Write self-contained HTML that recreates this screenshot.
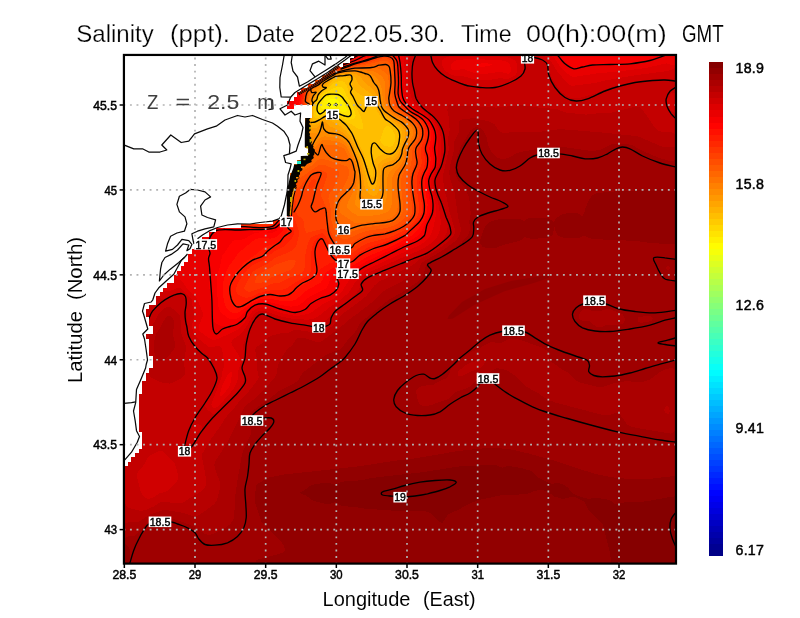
<!DOCTYPE html><html><head><meta charset="utf-8"><title>Salinity</title>
<style>html,body{margin:0;padding:0;background:#fff}svg{display:block}text{font-family:"Liberation Sans",sans-serif}</style></head><body>
<svg width="800" height="618" viewBox="0 0 800 618" style="will-change:transform">
<rect width="800" height="618" fill="#fff"/>
<defs><clipPath id="pc"><rect x="124.33" y="54.05" width="551.17" height="509.55"/></clipPath></defs>
<g clip-path="url(#pc)">
<g shape-rendering="crispEdges">
<rect x="124.33" y="54.05" width="551.17" height="509.55" fill="#860000"/>
<path d="M122.3 52L678.3 52L678.3 496L670.3 496.9L646.3 501.4L624.3 502.4L616.3 504.4L614.3 503.6L613 502.1L610.3 500.7L606.3 499.4L596.3 497.7L588.3 499L576.3 495.3L572.3 493.1L568.4 488.1L564.3 484.9L558.3 482.9L552.3 483.8L548.3 482.8L538.3 477.8L533 472.1L528.7 470.1L520.9 468L510.3 466.3L506.3 466.5L502.3 467.7L496.3 465.3L490.3 464.7L472.3 466L464.3 465.9L456.3 466.8L423.5 472.1L370.3 478.1L362.3 480.2L344.3 481.4L340.9 482.1L336.8 484.1L336.3 484.7L334.3 484.9L333.3 484.1L328.3 483L316.3 483.7L309.1 486L306.3 488.9L302.3 491.4L299.2 492.1L301.9 494.1L306.3 495.4L309.2 498.1L314.3 501.2L324.3 503.6L330.3 503.8L334.3 502.4L336.3 502.5L338.3 504L342.3 505.9L358.3 507.5L366.3 508.9L386.8 510.1L398.3 511.3L412.3 511.5L420.3 510.8L426.3 511.5L430.3 513.2L440.3 522.3L442.3 523L447 516L448.9 514L458.3 509.8L468.3 504.1L478.3 500.1L502.3 495L508.3 495.2L526.3 494L530.3 493L534.3 490.7L540.3 490.2L546.3 490.7L548.3 491.4L553.2 496.1L560.3 498.4L564.3 498.8L572.3 496.5L574.3 496.8L582.3 500.5L584.3 502.1L588.6 510.1L598.3 520.3L601 522L602.7 524L609.4 550L611 560L611.3 566L122.3 566Z" fill="#920000"/>
<path d="M122.3 52L678.3 52L678.3 191.6L666.3 190.3L640.3 190.2L612.3 191.6L596.3 193.2L591.5 196.1L588.9 200.1L585.5 208.1L584.3 212.8L582.3 216.2L580.3 214.5L576.3 212.9L566.3 213.4L562.3 214.4L558.3 216.7L554.9 220.1L554.3 221.7L552.3 221.4L551.6 220.1L548.3 218.4L542.3 217.5L530.3 217.7L524.9 220.1L524.3 220.9L520.3 219.4L514.3 218.7L502.3 218.7L494.7 220.1L489.8 222.1L485.4 226.1L482.8 232L480.3 240.1L480.2 242.1L480.6 244.1L482.3 246.5L486.3 248.3L490.3 248.4L496.3 247.6L506.3 244.1L518.3 241.2L520.9 240.1L524.3 237L527.4 238.1L532.3 238.8L546.8 238.1L551.4 236.1L553.2 234.1L554.3 225.1L555 230.1L556.8 234.1L559 236L564.3 237.9L578.3 238L584.3 235.7L589.1 238.1L594.3 239L608.3 239.8L618.3 239.5L628.3 240.8L636.3 240.9L648.3 242.7L668.3 244.2L678.3 244.3L678.3 475.9L672.3 476.2L652.3 478.6L638.3 479.3L630.3 479.1L612.3 477.3L595.4 474.1L556.3 461.2L528.3 453.4L508.3 448.8L490.3 448L480.3 448.6L456.3 451.3L416.9 458.1L392.3 461.1L360.6 466.1L284.3 474.5L268.3 477.6L257.1 484.1L256.1 486.1L254.6 498.1L255.4 504.1L261.6 522L266.3 527.4L279.9 540L283.9 546L285.1 550L283.8 552L279.3 554L255.8 560L256.4 562L274.3 564.3L276.3 564.8L278 566L123.3 566L126.3 564.3L128.6 562L129.6 560L130.3 556L129.9 550L129.1 548L126.3 544.8L125 544L122.3 543.7Z" fill="#9f0000"/>
<path d="M122.3 52L678.3 52L678.3 155.9L674.3 160.6L672.3 161L668.3 160.5L660.3 158.3L652.3 155.1L642.3 150.7L632.3 145.3L626.3 144L616.3 143.6L612.3 144.1L600.3 149.7L594.3 150.9L588.3 150.6L558.3 146.3L542.3 147.6L532.3 150L519.5 152.1L514.9 154.1L508.3 158.2L502.3 159.2L498.3 158.1L496.3 157L491.3 152.1L488.5 146.1L486.2 136.1L482.3 129.3L480.3 127.9L476.3 127.2L474.3 127.8L470.7 130.1L460.3 147.3L455.8 162.1L454.9 168.1L455.5 174.1L456.9 178.1L459.4 182.1L465.2 188.1L469.2 198.1L470.8 214.1L469.4 220.1L469.7 230.1L468.7 234.1L462 242.1L458.3 245.2L446.3 253.1L430.1 262.1L427.3 264.1L425.9 266.1L423 276.1L420.3 279.4L416.3 282.9L404.3 291L388.3 300.1L363.5 320.1L359.7 324.1L354.3 333.3L348.3 339.1L343.2 346L340.3 349.1L338.3 350.2L328.3 353.6L324.3 356.1L303.7 372L301.8 374.1L298.4 380.1L296.2 382.1L278.3 391.5L268 400.1L256 408.1L251.3 412.1L250 414L248.7 418L251.2 430L251 434.1L244.3 448.1L242.1 454.1L237.2 482L234.7 500.1L234.4 516L233.1 520L230.4 524L226.3 527.2L216.3 532.5L212.3 534.2L208.3 534.9L204.3 533.8L199.6 530L196 528L183.2 522L174.3 519.4L168.3 518.4L164.3 518.3L154.3 519.8L150.3 521.4L146 524L136.3 534.5L134.3 536.1L128.3 536.3L125.5 538L122.3 538.5ZM668.3 265.9L670 268.1L669.3 270.1L668.3 270.6L667.2 270.1L666 268.1L666.3 267.2ZM582.3 309.8L586.3 308.6L592.3 310.8L596.3 310.9L602.3 310.5L606.3 309.2L610.3 309.2L622.3 314.2L624.3 316.6L624.7 320.1L624.3 321.9L622.3 323.9L620.3 324.5L608.3 324.7L606.3 325.1L602.3 327.1L598.3 327.3L595.2 326.1L590.3 321.8L588.3 320.9L582.3 320.5L580.3 319.7L578.9 318.1L578.5 316.1L580.1 312.1ZM638.3 317.5L648.3 315.5L650.9 316.1L652.7 318L652.2 320.1L650.3 321.3L646.3 322.2L640.3 322.7L638.3 322.1L637.4 320.1ZM508.3 339.3L512.3 338.6L518.3 339.3L542.3 347.6L546.4 350.1L548.3 352.1L550.1 360.1L551.6 362.1L562.3 369.5L568.3 372.8L576.3 380.7L580.3 382.6L598.3 387.2L602.3 387.3L612.3 383.6L624.3 381.4L628.3 381.2L638.3 382.5L642.3 382L650.3 379.4L660 372.1L664.3 369.8L670.3 368.2L672.3 368.2L676.3 369.9L678.3 369.7L678.3 428.2L676.3 428.8L672.3 433.3L670.3 433.6L636.3 427.9L630.3 426.3L628.3 425.3L626.3 423.4L620.3 415L618.3 413.2L616.3 412.6L608.3 415.4L604.3 415.5L554.3 402.2L546.3 398.9L538.3 393.3L526.3 386.7L523.1 384.1L516.3 376.8L508.3 371L504.3 369.5L498.3 368.4L496.3 368.3L494.3 368.9L488.3 374.1L476.4 380.1L470.3 386L467.3 388.1L456.3 391.7L450.3 397.5L446.3 399.9L438.7 402.1L430.3 405.4L424.3 405.8L422.3 405.5L419.5 404L417.6 400L416.1 392L416.4 390.1L418.3 387.7L422.3 385.7L432.3 385.2L440.3 380.7L446.3 378.3L448.3 375.7L450.5 370.1L452.3 367L458.7 362.1L466.3 355.1L470.3 352.3L476.3 350L490.3 342.1L492.3 341.9L498.3 343.3L500.3 343.1Z" fill="#ab0000"/>
<path d="M122.3 52L678.3 52L678.3 144L676.3 145.7L674.3 146.6L668.3 147.5L664.3 147.3L660.3 146L640.3 137.3L636.3 136.1L604.3 132.7L560.3 129.1L542.3 131.5L502.3 132.7L500.3 131.8L498.3 129.7L494.2 124L488.3 121.3L474.3 118.1L462.3 119.3L460.3 120L459.2 122L458.9 124L458.9 132.1L454.1 142.1L453.5 152.1L450.4 164.1L449.2 172.1L449.8 178.1L454.5 192.1L458.2 218.1L460.8 228L460.9 230.1L459.9 234.1L456.6 240.1L443.1 250.1L422.6 262.1L421 264.1L418.3 270.3L414.3 273.9L400.3 282.3L382.3 291.7L376.3 298.3L372.1 302.1L358.3 313L351 318.1L341.8 326.1L322.3 340.7L320.3 341.8L316.3 342.1L304.3 338.1L300.3 337.6L298.3 337.9L296.3 339.4L292.3 344.9L286.6 350.1L282.5 356.1L277.8 366L276.7 374.1L274.7 378.1L255.5 398.1L247.6 404.1L244.3 407.7L227.7 442.1L215.9 460.1L214.4 464.1L214.5 466.1L216 472.1L220 482.1L220.5 486.1L217.6 498L216.3 501.4L214.3 504.1L200.3 514.4L196.3 516.4L192.3 515.8L182.3 512.7L164.3 509.8L150.3 514.5L140.3 520.7L136.3 522.5L128.3 522.3L122.3 524.3ZM168.1 316.1L166.3 317.2L164.3 319.9L160.2 328.1L156 334.1L154.7 338L154 346.1L154.3 352.5L156.3 357.7L158.3 360.1L160.3 361.2L162.3 361L164.3 359.7L170.3 353.8L174.3 348.9L175.2 346.1L174.9 342.1L172.9 334.1L174 324.1L173.8 320.1L172.3 317.3L170.3 316ZM140.4 340.1L137.9 342L137.4 344.1L138.3 345.2L140.3 345.6L142.3 344.8L143.9 342.1L143.3 340.1L142.3 339.5ZM482.3 359.9L484.5 360.1L485 362.1L482.8 366L480.3 368L468.3 372.6L462.3 375.7L460.3 376.3L458.3 375.6L457.8 374.1L458.3 371.3L464.4 366.1L468.3 363.7L472.3 362.1ZM666.3 406.5L668.3 406.2L669.7 410.1L669.6 412L668.3 413.9L666.3 413.4L664.6 412.1L664.3 409.8L665 408Z" fill="#b70000"/>
<path d="M122.3 52L678.3 52L678.3 135.8L672.3 132.4L662.3 132.1L657.2 130.1L654.3 126.9L642.3 109.3L640.3 107.4L638.3 106.6L634.3 107L610.3 112.8L598.3 113.3L586.3 114.6L566.3 112.6L556.3 109L532.3 107L522.3 104.9L496.3 107.6L468.3 105.7L456.3 105.5L450.3 104.7L448.3 105.7L447.4 110L448.8 118L449.7 130.1L448.2 138.1L448.7 150.1L442.9 176.1L444.2 190.1L446.8 198.1L449.4 212.1L454.7 228.1L454.9 232.1L454.4 234.1L452.3 237.6L447.5 242.1L439.4 248.1L430.1 254.1L418.3 260.1L412.3 265.6L378.2 282.1L374.3 285.7L366.2 296.1L354.3 305.4L342.2 314.1L340.1 316.1L334.7 324L328.3 329.2L318.3 333.6L316.3 333.7L308.3 331.5L296.3 329.9L294.3 330.1L288.3 333.1L282.3 333.1L274.3 334.8L270.3 336L268.3 337.3L262.3 343.3L256.3 347L255.1 350.1L257.1 360.1L256.9 368.1L258.6 376.1L258.5 378.1L257.6 380.1L246.5 394.1L240 400.1L234.3 408.2L225.1 418.1L220.3 426.3L210.3 440L202.3 453.6L202.1 458.1L204.6 470.1L206.1 480.1L206.2 484L204.9 488.1L200.3 491.8L182.3 502.9L178.3 503.4L162.3 501.6L160.3 502.3L154.5 506.1L146.3 509.7L142.3 510.8L140.3 510.7L129.2 508.1L126.8 506.1L124.7 502L122.3 501.5L122.3 361.1L130.3 363.6L134.3 365.5L136.3 366L138.3 365.8L140.3 363.8L142.7 360.1L143.4 358.1L143.5 350.1L144.3 348.1L146.3 346.1L148.3 348.1L147.1 360.1L147.4 370.1L148.4 374.1L151.9 378.1L156.3 380.4L164.3 383.2L170.3 383.6L180.3 378.8L182.3 377.4L184.9 374.1L185.4 370.1L184.1 366.1L183.9 362.1L186.1 348.1L185.9 346L181.4 334.1L181 324.1L179.9 316L179.1 314.1L174.3 309.8L170.3 307.3L168.3 306.8L166.3 307.1L164.3 308.2L158.3 314.3L151.1 328.1L148.3 337.8L144.3 335.7L142.3 336.1L136.3 339.7L132.3 343.2L122.3 343.8Z" fill="#c40000"/>
<path d="M122.3 52L413.7 52.1L414.8 56L412.7 66L412.5 78L414.3 90.1L416.3 97.5L420.8 104L432.3 114.1L437.7 120L441.3 126L443.3 132.1L444.5 146.1L444.1 154.1L441.6 166.1L436.7 178.1L436 182.1L436.6 188.1L441.4 202.1L447.8 226.1L447 232.1L444.2 238.1L440.3 242.1L435.3 246.1L426.1 252.1L375.3 274.1L368 278.1L362.3 283L357.1 292.1L353.8 296.1L335.5 310.1L328.3 318.4L324.3 321.4L318.3 324.8L316.3 325.4L312.3 325.4L290.3 322.8L274.3 319.2L264.3 315.4L260.3 315.5L258.3 316.6L256.3 318.7L252.3 325L244.9 340.1L243.4 344.1L243.1 348L245.2 358.1L243 370.1L244.2 378.1L242.8 384L239.1 390.1L230.3 399.9L218.3 411.8L216.3 413.3L214.3 414L212.3 413.7L207.7 410L205.2 406.1L205.1 404.1L212.3 389.8L216.3 378.2L216.3 374.2L214.5 366.1L212.3 360.1L211.1 358.1L209 356.1L202.3 352.2L198.3 348.5L192.3 341.3L189.4 336.1L188.2 332.1L186.7 322.1L186.6 314.1L185.9 308.1L186.4 302.1L184.7 298.1L182.3 295.5L180.3 294.3L178.3 294.1L170.3 297.2L162.3 299.5L160.3 298.2L159.9 296.1L158.6 294.1L152.8 290.1L140.3 285.2L126.4 278.1L122.3 276.6ZM434.3 53.5L438.3 52L678.3 52L678.3 70.3L677.2 72L676.3 76L675 78L672.3 79.4L662.3 79.3L650.7 80L633.7 82L609 88L596.3 93.2L582.3 97.3L578.3 98.2L574.3 98.3L570.3 97.6L566.3 95.8L559.6 90L552.9 80L546.4 64L544.3 61.9L540.4 60L530.3 59.3L525.7 60L524.2 62L524.2 70L522.8 74L521.3 76L518.3 78.5L510.3 82.9L504.3 84.7L492.3 86.8L480.3 86.8L470.3 85.5L454.3 81.1L446.3 77.3L442.3 74.6L437.7 70L435 66L433.3 62L432.5 58L432.7 56ZM670.3 94L672.3 92.6L674.3 92.5L678.3 95L678.3 111.1L674.3 112.7L672.3 112L670.3 110L667.3 104L667.2 100L667.8 98ZM196.3 423.7L200.3 425L201.5 426.1L202.3 428.1L201.9 430.1L200.3 432L198.3 432.9L194.8 432L192.7 430.1L192.3 428.1L193 426.1L194.3 424.4ZM158.3 451.2L160.3 450.8L162.3 451.2L164.3 452.5L173.9 462.1L175.7 466.1L178.4 476.1L178.5 478.1L177.8 480.1L176.2 482.1L168.3 490.1L165.1 492L160.3 493L152.3 498L148.3 499.1L145.3 498.1L143.2 496L140.7 492.1L137.2 478.1L136.9 474.1L137.8 472.1L142.3 467.5L148.3 456.9L152.3 454.1Z" fill="#d00000"/>
<path d="M122.3 52L408.3 52L408.7 56L408 66L408.3 81.3L409.8 92L411.5 98L413.9 102L417.5 106L430.1 116L433.9 120L437.7 126L440.1 132.1L441.2 142.1L440.6 158.1L439.1 166.1L434.3 176.3L433 182.1L434.2 190.1L438.9 206.1L440.9 222.1L439.9 230.1L438.6 234.1L436.2 238.1L430 244.1L422.3 249L372.3 270.8L364.3 275.1L355.3 282.1L349 292.1L342.8 298.1L328.6 308.1L320.3 315L314.3 318.6L308.3 319.6L294.3 319.3L280.3 316.3L264.3 310.7L260.3 310.7L256.3 312.4L252.9 316.1L242.3 332.8L232.2 340.1L231.3 342.1L232.5 346L239.3 356.1L240.8 360.1L240.5 364.1L237.9 372.1L237.5 380.1L235.1 386L232.7 390.1L220.5 404.1L216.3 407.6L214.3 408L212.3 406.8L211.3 404.1L221.4 378L222.6 370.1L224.4 366.1L224.3 362.1L222.2 350L221.5 348.1L220.3 346.4L219.2 346.1L210.3 347L208.3 346.6L196.3 337.2L194.3 334.6L192.6 330.1L192.2 326.1L192.6 322.1L194.6 316.1L194.6 314.1L192.8 308.1L191.9 300.1L190.8 298.1L182.3 289.4L180.3 287.9L178.3 287.7L170.3 290.8L164.3 291.3L154.3 286.4L140.3 280.9L126.3 274L122.3 272.7ZM449.7 52L512.3 52L511.6 54L510.3 55.3L508.3 55.8L489.5 56L506.3 56.8L514.3 59.8L516.2 62L516.7 64L517.5 68L517.2 72L516.1 74L514.1 76.1L508.3 78.8L506.3 79L500.3 78.2L486.3 80.3L476.3 79.8L472.3 79L462.3 75.8L456.3 76L452.3 75.2L448.3 73.1L444.8 70L442.2 66L441.6 64L441.6 62L442.3 59.9L444.5 58L450.2 56L450.7 54ZM543.4 54L544.9 52L678.3 52L678.3 66.8L668.3 70.9L632.3 75.7L604.3 80.6L594.3 83.1L572.3 85.8L570.3 85.4L568.3 84.2L566.3 82.1L556.3 70.1L550.2 60L544.4 56Z" fill="#dd0000"/>
<path d="M122.3 52L405.5 52L404.3 56L404.1 60L405.5 88L406.3 94L407.5 98L409.9 102L413.7 106L426.3 115.3L431.3 120L435.2 126L438 134.1L438.4 140.1L437.7 162.1L436.2 168.1L431.5 178.1L430.8 182.1L431.5 188.1L435.6 204.1L436.1 214.1L433.3 228.1L430.2 236.1L426.3 240.7L420.3 244.8L368.3 268.8L358.3 274.8L351.8 278.1L347.9 282.1L341.5 292.1L337.4 296.1L332.3 299.6L322.3 304.6L310.3 313.1L302.3 315.4L294.3 315.8L282.3 313.3L266.3 307.8L262.3 307.3L258.3 307.8L254.3 309.8L251.8 312.1L244.3 323.3L240.3 327.5L237 330L218.3 339L214.3 340L212.3 339.9L210.3 338.9L200.6 332.1L199 330.1L198.5 328.1L198.8 326.1L202.8 316.1L202.5 312.1L197.6 300.1L196.3 298.1L188.1 290.1L182.3 281.7L180.3 280.3L174.3 278.7L168.3 274.9L163.1 270.1L158.3 266.9L153.1 262.1L148.3 258.9L143.1 254.1L138.3 250.9L133.1 246.1L128.3 242.9L122.3 237.8ZM475.8 52L478.3 52L508.8 52L504.3 52.8ZM548.5 52L678.3 52L678.3 64.6L674.3 65.5L672.3 65.3L668.3 63.6L666.3 63.4L646.3 67.9L622.3 71L596.3 73.5L576.3 76.6L572.3 76.7L570.3 75.9L568.3 74.3L560.3 66.7L554.3 58L549.3 54ZM458.3 59.8L468.3 59.2L482.3 59.4L498.3 60L504.3 60.9L507.8 62L509.6 64L510.8 68L510.9 72L508.3 73.9L500.3 71.6L486.3 73.8L480.3 74.1L474.3 73L464.3 69.4L462.3 69.2L454.3 70.5L452.3 70L450.7 68L450.6 66L451.4 64L454.3 61.2ZM230.3 371.7L231.7 372.1L232 374L230.3 384.1L228.3 388L224.3 393.4L222.3 395.2L220.3 396.2L220.3 392.6L222.7 384.1L228.3 373.9Z" fill="#e90000"/>
<path d="M122.3 52L330.1 52L331.3 54L338 60L340.3 61.2L342.3 61.5L349.9 60L355.3 58L359.4 56L363.2 52L400 52L402.1 68L403.2 92L404.4 98L406.8 102L410.6 106L424.3 115.7L429.1 120L433 126.1L435.6 134.1L435.8 140.1L435 148.1L435.7 158.1L435.2 164.1L434.1 168.1L429.4 178.1L428.8 182.1L429.4 188.1L432.7 202.1L432.8 212.1L431.2 218.1L424.3 235.3L422 238.1L415.9 242.1L368.3 264.7L356.3 271.8L349 274.1L344.6 276.1L341.4 278.1L339.5 280.1L334.7 290.1L330.9 294.1L316.3 300.5L312.3 303L306.5 308.1L302.3 310.4L298.3 311.6L292.3 311.7L282.3 309.5L268.3 305L264.3 304.3L260.3 304.4L256.3 305.6L252 308.1L247.9 312.1L244.3 317.9L242.3 320.1L238.3 323.3L234.3 325.3L230.3 326.4L224.3 326.4L221.8 326.1L216.3 323.6L214.3 322L211.2 310.1L210.2 294.1L208.8 284.1L208.6 268.1L207.1 258.1L208.1 252.1L207.5 246.1L207.9 242.1L212.8 232.1L213.7 226L216 220.1L214.8 218.1L210.3 217.7L209.3 218.1L200.3 230.8L198.3 232.5L197 232.1L191 228.1L176.3 215.8L145 192.1L128.3 175.6L124.3 172.4L122.3 171.8ZM558.4 52L562.3 52L666.7 52L662.3 53.3L654.6 58L649.3 60L642.3 61.6L622.3 64L590.3 65L576.3 67.7L574.3 67.7L570.3 66.1L562.3 59.5L560 56ZM668.7 52L678.3 52L678.3 59.1L676.3 58.8L672.3 53.4ZM474.9 64L484.3 63.2L493.4 64L488.8 66L480.3 67.1L476.5 66Z" fill="#f60000"/>
<path d="M274.7 52L323.9 52L328.3 57L338.3 63.9L340.3 64.4L355.2 60L371.1 54L374.9 52L396.8 52L399.3 60L400 64L401 76L401.3 92L402.4 98.1L404.7 102L408.3 106.2L413.2 110L422.5 116L427.1 120L431 126L433.1 132.1L433.4 138.1L432.1 148.1L433.2 158.1L432.9 164.1L431.8 168.1L427.9 176.1L426.7 182.1L427.2 188.1L430.1 202.1L430.3 208.1L429.9 212.1L427.9 218.1L421.2 232.1L419.8 234.1L416.3 237L407.6 242.1L366.3 261.5L354.3 268.8L346.3 270.8L338.3 271.7L334.3 273.1L331.3 276.1L328.3 284.3L326.2 288.1L323.2 290.1L310.3 296.1L300.3 304.4L296.3 306.2L290.3 306.6L280.3 304.9L268.3 301.7L260.3 301.9L256.3 303.1L250.9 306.1L246 310.1L240.9 316.1L238.3 317.9L234.3 319.4L230.3 319.3L226.3 316.9L220.5 312.1L219.3 310.1L218.4 306.1L216.9 290.1L216.9 278.1L217.5 274.1L220.6 264.1L222 256.1L232.3 241.5L234.3 240.5L240.3 240L244.3 238.9L254.3 233.1L261.6 232.1L254.3 231.7L244.3 230.2L224.3 229.6L221.3 228.1L220.8 226.1L223.5 220.1L250.9 172.1L250.3 170.7L248.3 172.7L237.5 188.1L230.5 196.1L225 204.1L218.5 212.1L216.3 213.2L214.3 212.9L212.1 210.1L205.4 194.1L189.3 150.1L186.6 144.1L183.3 134.1L182.6 130.1L183.1 128.1L184.3 126.4L186.3 126.1L188.3 126.5L200.3 132.5L209.4 138.1L216.3 141L218.3 140.9L224.3 138.6L228.9 138.1L232.3 136.6L236.9 136.1L240.3 134.7L246.8 134.1L250.3 132.6L254.9 132.1L258.3 130.7L265 130.1L268.3 128.9L270.3 129L274.3 130.7L275.4 130.1L288.4 108L290.3 105.8L294.3 103.5L296.3 101.5L298.4 94L298.3 92L296.3 88.2L293.2 84L290.3 75.5L276 56ZM272.2 230.1L270.3 231.2L264.6 232.1L270.3 233L272.3 232.8L274.6 232.1L277.2 230.1L276.3 229.1Z" fill="#ff0300"/>
<path d="M277.7 52L321.8 52L322.9 54L326.6 58L332.3 60.8L338.3 65.6L340.3 65.8L370.5 56L375.5 54L377.7 52L394.9 52L397.9 60L398.8 64L399.7 76L400 94L401.8 100L404.5 104.1L408.5 108L420.4 116L425.1 120.1L429.1 126L431 132.1L431.1 138.1L429.3 148.1L430.6 158.1L430.4 164.1L429.4 168.1L425.6 176.1L424.5 182.1L424.8 188.1L427.6 204.1L427.2 212.1L424.3 219.6L418.3 229.5L414.3 233.6L408.3 238L390.3 247L368.3 256.2L352.3 265.9L344.3 267.6L336.3 267.2L334.3 267.6L330.3 269.5L326.5 272.1L324.9 274.1L322.3 280.1L320.3 282.8L306.3 290.7L297.8 298.1L294.7 300.1L290.3 301.2L286.3 301.4L280.3 300.8L268.3 298.5L260.3 299.4L252.3 302.7L238.3 312.5L234.3 313.3L230.3 311.7L226.4 308.1L224.8 304.1L223.2 296.1L222.7 288.1L223.2 282.1L225.3 274.1L228.3 266.8L239.3 252.1L254.2 240.1L256.3 238.9L260.3 237.9L270.3 238.6L274.3 238L278.3 235.4L281.7 232.1L283 230.1L284.3 225.5L284.4 222.1L282.3 221L280.3 221.9L274.3 227L266.3 229.2L254.3 229.2L236.3 228.2L226.3 227.3L224.2 226.1L224.3 224.1L226.3 220.2L262.3 160.4L291.2 110L298.3 104.3L299.4 102L300.8 94L300.3 90.9L294.5 82L292.8 74L278.3 54.2ZM186.3 129.6L188.3 129.9L192.3 131.7L208.3 140.7L214.3 143.6L216.3 143.9L224.3 140.5L227.9 140.1L232.3 138.5L235.9 138.1L240.3 136.5L246.3 135.9L258.3 132.5L264 132.1L268.3 130.9L270.3 131.2L271.6 132.1L273.2 134.1L273.4 136.1L269.9 142.1L262.3 152L261.4 154.1L246.3 172.2L234.3 189.6L229.5 194.1L222.3 204L218.3 209L216.3 210.6L214.3 209.6L210.8 202.1L203.5 182.1L200.3 174.9L197.5 166.1L194.3 158.9L191.5 150.1L188.3 142.9L185.2 132.1Z" fill="#ff1000"/>
<path d="M281.1 52L320.2 52L322.3 55.9L326.3 60.1L332.3 62L338.3 66.9L343.2 66L374 56L378.3 54L380.2 52L392.7 52L396.6 60L397.6 64L398.6 78.1L398.6 92L399.1 96L400.4 100L402.9 104L406.7 108L418.3 116L423.2 120L426.3 124L428.7 130.1L429.2 134.1L428.9 138.1L426.5 148.1L427.9 158.1L427.8 164.1L426.7 168.1L423.2 176.1L422.1 182.1L422.6 190.1L424.8 204.1L424.5 212.1L422.4 218.1L418.3 224.3L412.3 230.5L404.3 236.8L390.3 243.6L368.3 251.9L362.3 255L354.3 260.9L350.3 262.9L344.3 264.1L334.3 262.1L330.3 263L320.3 268.9L316.3 276.1L314.3 278.3L301.3 286.1L292.3 293.8L290.3 294.9L286.3 296.2L282.3 296.6L270.3 295.1L264.3 295.6L258.3 297.2L240.3 305.9L236.3 306.5L234.3 305.6L232.3 303.4L230 298.1L228.8 292.1L228.7 288.1L229.4 284.1L231.8 278L234.1 274.1L244.3 262.4L253.5 256.1L264.3 247.6L266.4 246.1L274.3 243.9L278.3 241.9L285.7 234.1L287.4 230.1L287.1 220.1L286.3 218.6L284.3 217.7L280.3 219.2L274.3 225.4L270.3 227L266.3 227.7L254.3 227.9L238.3 226.9L233 226.1L229.1 224.1L229.3 222.1L230.3 220L260.3 170L288.3 120.9L292.8 112L298.3 107.1L300.5 104L302.3 92.1L295.8 82L295.3 80L296.1 74L295.3 72L290.5 66L285.4 58L282 54ZM258.3 133.5L268.3 132.1L270.3 132.7L271.5 134.1L271.5 136.1L269.4 140.1L259.9 154.1L243.6 174.1L234.3 187.6L232.3 190.1L225.9 194.1L220.4 202.1L216.3 205.5L214.3 203.1L210.3 193.2L199.8 164.1L196.3 156L193.8 148.1L190.3 140L189.5 136.1L190.3 134.6L194.2 136.1L198.1 138.1L202.3 141.2L214.3 147L216.3 146.5L219.3 144.1L224.3 141.5L240.3 137.5L248.3 136.2Z" fill="#ff1c00"/>
<path d="M289.1 52L318.8 52L320.3 55.4L324.3 60.8L326.3 62.6L330.3 62.4L332.3 63.1L334.3 64.6L336.3 67.2L338.3 68.1L371.6 58L377 56L384.3 52.4L388.3 52.4L390.3 53.3L392.3 55.3L395.4 60L396.5 64L397.5 78L397.5 94L399.1 100L401.2 104L405 108L421.3 120.1L424.5 124L426.9 130.1L427.2 134.1L426.8 138.1L423.5 150.1L424.8 158.1L424.8 164.1L423.7 168.1L420.4 176.1L419.4 182.1L419.8 190.1L421.9 204.1L421.7 212.1L419.6 218.1L416.9 222.1L412.3 226.7L404.3 233.3L398.3 236.7L390.3 240.2L372.3 245.9L367.1 248.1L360.3 251.8L352.3 257.7L348.3 259.5L342.3 259.9L336.3 257.4L334.3 255.8L331.2 252.1L324.3 239.7L322.3 237.7L320.3 237.4L317.9 238.1L314.3 241.2L311.9 248.1L311 254.1L311.2 270.1L310.3 272.6L308.3 275.2L292.5 284.1L288.3 287.2L284.3 289.3L280.3 290.2L272.3 290L264.3 291.7L258.3 293.5L250.3 297.1L246.3 297.8L240.9 296.1L237.6 294.1L236.4 292.1L236 288.1L238.1 282.1L246.8 270.1L252.3 265.3L264.3 259.4L274.3 251.3L284.6 246.1L290.7 240.1L292.3 237.8L293.7 234.1L293.7 230.1L291.3 224.1L290.3 215.4L288.3 211.6L286.3 212.3L278.3 217.8L274.1 224.1L268.3 226.2L256.3 226.8L242.3 226L238.3 225.2L235.4 224.1L235 222.1L241.9 208.1L289.6 124L294.1 114L300.3 107.4L301.9 104.1L303.4 92L302.7 90L297 82L296.5 80L298.3 77.5L300.3 77.8L304.3 80.3L304.4 78L289.9 54ZM260.3 133.8L268.3 133.1L270.1 134.1L270.3 136.1L267.2 142.1L259 154.1L250.3 165.2L243.8 172.1L234.3 185.8L232.3 188.2L230.3 189.3L228.3 188.1L227.8 186.1L227.5 182.1L225.9 176.1L225.5 168.1L223.9 162.1L223.1 156.1L222.3 154.1L218.9 150.1L218.2 148.1L218.7 146.1L220.8 144.1L224.3 142.3Z" fill="#ff2800"/>
<path d="M290.9 52L317.5 52L319.4 56L323.6 62L328.3 67.6L330 64L331.2 64L332.3 64.3L334.3 65.9L335.3 68L336.3 69L340.3 68.4L366.3 60.8L384.3 54.7L388.3 54.9L390.3 55.7L392.3 57.5L394.3 60.6L395.4 64L396.4 78L396.3 94L397 98L398.6 102L400.3 105.1L403.1 108L419.4 120L422.6 124L425 130.1L425.3 134.1L424.8 138.1L420.5 150.1L421.7 160.1L421.5 164.1L417.8 174.1L416.5 180.1L416.7 188.1L419.1 206.1L418.9 212.1L417.7 216.1L414.3 221.2L408.3 227L402.3 231.4L396.3 234.5L388.3 237.6L368.3 243.1L360.3 247.1L352.3 253L346.3 255.5L342.3 255.6L340.3 255.1L336.3 252.9L332.3 247.9L324.3 234.4L322.3 233.4L320.3 233.6L313.3 236.1L310.6 238.1L309.3 240.1L307.3 246.1L305.4 254.1L304.5 268.1L304 270.1L302.7 272.1L298.3 274.7L288.3 278.2L280.3 282.4L272.3 283.6L266.3 286.4L250.3 291.6L248.3 291.7L245 290.1L244.3 288L244.7 286.1L252.7 272.1L256.3 269.2L266.7 264.1L276.3 257.2L289.5 252L292.9 250.1L296.3 245.6L298.7 236.1L298.6 230.1L292.9 214.1L292.7 208.1L292.3 207L290.3 206.3L286.3 208.4L275.2 216.1L273.2 218.1L273.1 222.1L270.3 224.1L262.3 225.3L252.3 225.4L240.8 224.1L239 222.1L240.4 218.1L248.5 202.1L290.3 128.1L295.4 116.1L300.3 109.9L302.7 106L304.4 92L303.8 90.1L298.2 82L298.3 80L300.3 80.1L306.3 84.6L308.5 84L306.3 78.3ZM258.3 134.8L268.4 134.1L269.3 136.1L268.6 138.1L259.6 152.1L250.3 164.3L244 170.1L240.7 174.1L234.3 183.7L232.3 185.7L230.3 185L228.2 176.1L227.8 168.1L225.6 158.1L223.7 154.1L219.5 148.1L219.8 146.1L222 144.1L224.3 142.9L240.3 138.8L246.3 138.1Z" fill="#ff3500"/>
<path d="M292.3 52L296.1 52L296.9 56L300.3 58.9L302.3 62.1L304.3 63.8L305.6 62L305 60L301.4 54L301 52L306.7 52L308.2 56L314.3 63.8L316.3 65.4L317.5 64L315.2 60L311.9 52L316.2 52L317.9 56L326.4 68L328.3 73L330.3 73.4L334.3 70.8L368.3 61.3L382.3 56.8L386.3 56.4L388.3 56.7L390.3 57.7L392.5 60L394.5 66L395.3 80L395 94L397 102L399.2 106L401 108L414.9 118L419.2 122L421.9 126L423.5 132.1L422.8 138.1L417.5 150.1L418.2 164.1L414.5 174.1L413.3 180.1L413.5 188.1L416 206.1L415.9 212.1L414.7 216.1L412 220.1L407.9 224.1L402.3 228.2L396.3 231.3L388.3 234.3L372.3 237.6L366.3 239.5L358.3 243.6L350.3 249.5L344.3 251.2L340.3 250.6L336.3 247.8L330.3 239L326.3 230.7L324.3 229.1L320.3 229.3L306.3 233L304.8 230.1L303.4 220.1L301.7 218.1L298.3 215.8L296.3 213.1L296.3 203.1L296.2 202.1L294.3 200L292.3 200.3L288.3 202.5L265.8 218.1L261.9 222.1L254.3 223.4L244.3 222.1L243.7 220.1L244.3 218.1L251.9 202.1L292.2 130.1L296.7 118L303.2 108L304 106L304.4 98L305.3 92L303.6 86L304.3 85.8L308.3 86.6L309.6 86L310.3 84.1L306.4 76L303.6 72L300.9 66L298 62L296 56ZM311.8 180.1L308.7 184.1L308.2 186.1L309.4 188.1L312.3 188.7L314.8 186.1L316.2 180.1L314.3 178.5ZM258.3 135.4L266.3 134.8L268.3 136.1L267 140.1L259 152.1L250.3 163.4L246.3 167.3L240.9 170.1L238.7 172.1L234.3 178.4L232.3 178L231 166.1L227.4 158.1L220.6 148.1L220.8 146.1L224.3 143.5L242.3 139L246.3 138.6ZM290.3 259.7L294.3 259.5L295.4 260.1L295.6 262.1L294.2 266.1L292.8 268L290 270.1L272.3 277L263.7 282.1L256.3 283.5L254.9 282.1L255.9 278.1L257.1 276.1L260.3 273.3L276.9 264.1Z" fill="#ff4100"/>
<path d="M302.7 52L305 52L305.2 54L304.3 55.2ZM308.3 59L318.3 70.8L320.3 72.5L322.3 72.5L322.5 72L321.1 66L322.3 65L325.8 70L326.3 72.3L324.7 74L326.3 75L330.3 74.5L336.3 71.1L342.3 69.1L366.3 63.1L382.3 58.5L386.3 58.3L388.3 58.8L390.3 60L391.8 62L393 66L394 76L393.8 96L396 104L397.1 106L400.3 109.5L412.7 118L417.2 122.1L420.3 126.9L421.6 132.1L420.8 138.1L414.8 150.1L414.8 164.1L410.9 174.1L409.7 180.1L409.8 188.1L412.2 206.1L412.1 212.1L410.7 216.1L407.7 220.1L403.1 224.1L398.3 227.1L392.3 229.7L386.3 231.4L372.3 233.7L366.3 235.2L358.3 238.7L350.3 243.7L346.3 245.3L342.3 244.8L338.3 242.9L334.3 238.8L330.8 232.1L328.6 224.1L326.6 208.1L321.1 196.1L321.6 192.1L326.6 178.1L327 174.1L325.5 172.1L322.3 170.5L320.3 170.3L314.3 172.2L311 174.1L306.5 178.1L300.3 186.4L280.3 199.8L274.3 203L256.3 210.1L253.9 210.1L253.6 208.1L254.1 206.1L258.5 196.1L265.9 182.1L292.3 135.3L294.3 131.2L297.9 120L304.6 108L305.1 106L305.2 98L306.3 89.6L311.3 86L311.6 84L307.9 76L304 70L303.5 68L304.3 66.7L312.3 75.2L312.8 74L311.1 68L307.8 62L307.4 60ZM224.4 144.1L262.3 135.4L266.3 135.6L267 136.1L267.1 138.1L266.3 140.1L258.3 152.1L250.8 162.1L248.3 164.9L244.3 167.3L242.3 167.4L240.3 166.7L234.3 162.7L228.3 157.1L221.5 148.1L221.7 146.1Z" fill="#ff4e00"/>
<path d="M370.3 63.7L382.3 60.7L386.3 60.7L388.3 61.4L390.3 63.3L391.3 66L392.3 72.4L392.8 82L392.1 96L393.8 104L396.2 108L398.3 110L410.3 118L415 122.1L417.9 126L419.4 130.1L419.4 136.1L417.9 140.1L414.1 146.1L412.3 150L411.3 164.1L407 174.1L405.5 180.1L405.6 188.1L407.8 206.1L407.5 212.1L405.8 216.1L402.4 220.1L398.3 223.3L394.3 225.5L386.3 228L370.3 230.3L364.3 231.7L357.7 234.1L348.3 238.5L344.3 239.2L341.1 238.1L338.3 236L335.4 232.1L333.5 228.1L331.4 220.1L330.4 206.1L328.4 198.1L329.5 194.1L335.6 184.1L338.8 176.1L339.4 172.1L337.9 170.1L324.3 164.9L320.3 164.6L318.3 165.4L296.3 180.6L268.3 196.4L264.3 197.8L263.4 196.1L263.8 194.1L270.2 180.1L294.7 136.1L299 122.1L305.8 108L306.3 106.1L305.9 100.1L306.3 96L307.8 90L312.5 86L313.2 84L312 80L312.3 79.6L316.3 81.3L319.1 80L316.3 76.6L315.3 72L316.3 71.3L320.3 75.4L321.3 78L322.3 78.2L328.3 76.1L336.3 71.9L342.3 69.7L354.3 66.6ZM262.3 135.9L264.8 136.1L266.3 137.7L265.6 140.1L257.6 152.1L250.3 161.8L246.3 165.6L244.3 166.3L240.3 165.1L236.3 162.6L228.3 155.6L222.3 148.1L222.7 146.1L226.3 144.1L242.3 140L248.3 139.3Z" fill="#ff5a00"/>
<path d="M380.3 63.8L386.3 63.8L388.3 65.3L389.5 68L390.3 71.6L391.1 80L390.2 98L390.8 102.1L392.2 106L396.3 110.8L407.7 118L412.7 122L415.8 126L417.4 130.1L417.6 134.1L416.7 138.1L410.7 148.1L409.6 152.1L408.3 162.4L402.8 174.1L401.5 178.1L401.2 188.1L403.2 206.1L402.6 212.1L400.6 216.1L398.3 218.6L394.3 221.7L390.3 223.4L384.3 224.8L364.3 227.5L348.3 232.6L344.3 233L342.3 232.3L339.8 230.1L337.1 226.1L335.4 222.1L334.1 214.1L334.2 202.1L334.4 200.1L336.2 196.1L343 188.1L348.3 177.4L349 174.1L348.8 170.1L348.1 168.1L346.2 166.1L326.3 159.6L320.3 159L318.3 159.6L316.3 161L312.3 165.2L308.3 168.1L298.3 172.7L278.3 184L274.3 185.5L273 184.1L273.4 182.1L278.3 171.1L296.3 138.2L300.2 124L306.4 110L307.2 106L307 98L308.3 92L309.4 90L312.3 87.6L314.3 85L320.3 81.1L338.3 71.7L352.3 67.9L370.3 65.9ZM226.3 144.8L262.3 136.6L264.3 136.9L265.4 138.1L264.9 140.1L256.9 152.1L253.5 156.1L250.3 160.8L246.3 164.7L244.3 165.2L242.3 164.8L237.4 162.1L228.3 154.4L223.3 148.1L223.7 146.1Z" fill="#ff6700"/>
<path d="M346.3 70L356.3 68.4L376.3 68.1L380.3 69.2L386.3 73.2L387.9 76L388.6 80L388.7 86L387.9 98L388.3 102L389.6 106L390.8 108L394.3 111.6L404.7 118L410 122L413.5 126L415.2 130.1L415.1 136.1L413.4 140.1L408.5 148.1L405.5 162.1L398.5 174.1L397 178.1L396.6 186.1L398 204.1L397.3 210.1L395.5 214.1L393.9 216.1L390.3 218.5L386.3 219.8L360.3 223.2L356.3 223.3L354.3 222.6L348.3 218.7L342.3 214.5L339.9 212.1L339.1 208.1L340.5 202.1L342.9 198.1L349.8 190.1L352.3 186.1L353.5 182.1L354.3 176.1L354.1 172.1L352.3 164.7L347.8 156.1L346.3 152.1L344.3 149.1L342.3 147.6L334.3 144.7L324.3 144.6L322.3 145.4L318.3 149.2L313.1 152.1L311.8 154.1L309.7 160.1L308.2 162.1L306.3 163.3L298.3 166.1L286.3 172.6L284.3 173.2L282.8 172.1L284.6 166.1L296.3 144.1L297.9 140.1L301.3 126.1L307.4 110.1L308.2 106L308.1 98L309.6 92.1L314.3 86.9L323.8 80L336.3 73.2ZM258.3 137.9L262.3 137.4L264.4 138.1L264 140.1L256.3 151.8L252.7 156.1L250.1 160.1L246.3 163.7L243.7 164.1L238.3 161.4L228.3 153.1L224.2 148.1L225.1 146.1L226.3 145.5L242.3 141.5L248.3 140.7Z" fill="#ff7300"/>
<path d="M350.3 70L358.3 69.6L372.3 71L376.3 72.4L381.6 76L383.2 78L384.7 82L385.3 88L385.4 100L386.2 104L388.1 108L392.3 112.4L407.1 122L410.9 126L412.8 130.1L412.7 136.1L406.5 148.1L403.6 160.1L401.5 164.1L394.9 172.1L392.6 176.1L391.9 182.1L392.3 200.1L391.9 204.1L390.7 208.1L389.5 210.1L387.3 212.1L380.3 214.5L368.3 216.1L360.3 216.5L358.3 216.1L351.6 212.1L349.1 210.1L347.5 208.1L347.1 206.1L347.8 202.1L354.3 190.2L355.7 186.1L356.6 180.1L356.6 174.1L355.7 168.1L353.1 160.1L347.2 148.1L344.3 144.9L338.3 141.9L334.3 140.8L326.3 140.1L322.3 140.5L320.3 141.7L316.3 146.3L308.9 150.1L306.7 152.1L304.3 156.2L302.3 157.7L294.3 160.9L292.6 160.1L294.3 154.3L298.9 144.1L303.1 126L307.9 112L309.1 106L309.5 98L311.1 92L312.6 90L322.1 82L328.5 78L340.3 72.2ZM248.3 141.6L260.3 138.4L262.3 138.8L262.7 140.1L256.3 150.2L248.3 160.7L246.3 162.5L244.3 162.8L242.3 162.3L238.3 160.1L228.3 151.6L225.7 148.1L226.3 146.9L227.7 146.1L242.3 142.3Z" fill="#ff8000"/>
<path d="M344.3 71.9L352.3 70.7L358.3 71L370.3 73.6L374.3 76L378.1 80L380.9 86L381.9 90L383.2 102L385.5 108L388.3 111.4L391.4 114L401.1 120.1L406.2 124L408.3 126.5L410.2 130.1L410.6 132.1L410.2 136.1L404.7 148.1L402.7 156.1L401 160.1L398.3 163.7L391 170.1L388.2 174.1L387.4 178.1L387.1 196.1L385.6 202.1L384.3 204.5L382.3 206.4L376.3 208.8L370.3 209.7L362.3 209.6L358.3 208L356.2 206.1L355.2 204.1L355.4 200.1L358.4 186.1L358.8 178.1L358.3 172.1L355.2 160.1L349.8 148.1L346.3 142.9L340.3 138.9L336.3 137.4L324.3 136.4L319.6 138.1L314.6 144.1L312.3 145.6L304.3 148.3L302.1 148.1L301.9 144.1L304.4 128.1L308.5 114L310.6 100L312.9 92L320.9 84L326.5 80L337.2 74ZM254.3 141.9L258.3 141.5L258.8 142.1L258.2 144.1L254.3 149.8L246.3 160.1L244.3 160.4L242.8 160.1L239.6 158.1L234.3 153.2L229.9 150.1L229.2 148.1L234.8 146.1L240.3 145.2L242.9 144.1L248.3 143.7Z" fill="#ff8c00"/>
<path d="M350.3 71.9L355.3 72L362.5 74L366.7 76L370.3 79L376.3 86.4L378.2 90L381.5 104L384.3 109.6L390.3 115.5L403 124L406.5 128.1L408 132.1L407 138.1L403.6 146.1L401.1 154.1L399.3 158.1L396.3 161.6L392.3 164.3L388.3 166.2L385.9 168.1L384.7 170.1L383.7 174.1L383 190.1L381.8 196.1L380.3 198.8L378.3 200.9L374.3 202.6L372.3 202.7L368.3 201.3L364.3 198L362.3 195.3L361.2 190.1L360.5 174.1L358.4 164.1L356.4 158.1L351 146.1L348.3 141.5L346.3 139.3L342.3 136.1L338.3 134L329.4 132.1L324.3 130L322.3 130.1L319.6 132.1L316.3 133.4L310.3 133.2L308.3 132L306.7 128.1L306.9 124L309.5 114.1L311.5 102.1L314.1 94L315.3 92L318.3 89.2L322.1 84.1L330.9 78L339 74Z" fill="#ff9800"/>
<path d="M342.3 74L352.3 73.3L355.9 74L359.3 76L366.6 84L374.3 90.6L376.3 94.3L380.4 106L384.3 112.3L388.3 116.3L401.6 126L404.3 129.8L405.1 132.1L404.5 138.1L399.6 152.1L397.6 156.1L394.3 159.4L384.3 163.5L381.8 166.1L381 170.1L379.1 190.1L377.2 194.1L374.3 196L372.3 195.9L370.3 194.9L365.6 190.1L364.4 186.1L362 170.1L359.2 160.1L351.2 142.1L346.3 135.4L340.3 130.7L330.3 126.5L326.3 122.7L324.9 122L322.3 122.5L316.3 128.2L312.3 128.4L310.3 127.7L309 126L308.9 122.1L312 104L315.9 94.1L320.3 89L322.3 85.6L329.2 80L336.3 75.9Z" fill="#ffa500"/>
<path d="M340.3 75.7L350.3 74.8L354 76L355.7 78L358.2 84L360 86L372.3 94.7L376.3 101.1L379.3 108L384.3 115.3L387.2 118L398 126L400.3 128.6L402.1 132.1L402.3 136.1L401.5 140.1L398.3 149.5L396.3 153.3L392.3 156.8L386.3 158.3L382.5 160.1L378.5 164L377.9 166.1L378 174.1L377.2 182.1L376.3 185.5L374.3 188.9L372.3 189.5L370.3 188.5L368.3 185.6L363.4 166.1L360.9 158.1L352.7 140.1L350.3 136L346.3 131.1L340.3 126.1L328.3 119.4L326.3 119.1L322.3 120L316.3 124.4L314.3 125.1L312.3 124.9L311.4 124L310.7 122L312.4 106L313.7 102L317.7 94L324.1 86.1L327.4 84L330.8 80L334.3 77.9Z" fill="#ffb100"/>
<path d="M338.3 77.8L344.3 77.1L349.4 78L350.9 80L352.5 86L354.3 89.9L358.3 93.3L370.3 100.6L372.3 102.6L377.5 112L381.7 118L388.6 122L394 126L396.3 128.3L398.6 132.1L399.2 136.1L398.4 142.1L396.3 147.9L394.3 150.9L392.3 152.6L390.3 153.4L384.3 153.6L380.3 154.9L376.3 158.3L375.1 160.1L373.2 164.1L372.8 166.1L373.2 174.1L372.3 178.5L370.3 174.9L369.3 170.1L365.6 162.1L363.8 154.1L357.3 140.1L348.3 128L338.3 120.5L330.3 117.1L326.3 116.8L324.3 117.4L316.3 121.3L314.3 121.6L312.9 120.1L312.5 116L313.4 106L318 96.1L324.3 88.7L328.4 86L332.3 80.7Z" fill="#ffbe00"/>
<path d="M334.3 82.7L340.3 80.9L342.3 81L344.3 82.1L347 86.1L350.3 96L352.9 100L361.4 118.1L363.2 126L363 128.1L362.3 129L360.3 129.2L356.3 127.8L351.5 124L346.3 122.4L339 118L332.3 115.5L326.3 114.9L316.3 118.5L314.3 116.9L314 112L314.5 106L319.7 96L324.3 91.2L329 88ZM386.3 126.5L388.3 126.3L391.1 128.1L392.8 130.1L394.5 134.1L395 138.1L394.3 143L392.3 145.9L390.3 146.8L388.3 146.7L384.3 145.6L382.1 144.1L380.7 142.1L380.3 140.1L382.8 132.1L384.3 128.7Z" fill="#ffca00"/>
<path d="M334.3 87.9L338.3 86.8L340.3 86.8L342.3 87.9L344.3 90.3L346.7 96L350.6 102L355.1 112L355.6 116.1L354.3 118.5L350.3 119.7L346.3 119.5L338.3 115.6L328.3 113L326.3 113.1L318.3 115.7L316.3 114.8L315.6 112L315.9 106L320.3 97.9L324.3 93.5Z" fill="#ffd700"/>
<path d="M328.3 93.6L332.3 92.6L338.3 92.4L340.3 93.3L342.3 95.2L348.3 103.9L350.4 108L351.6 112L351.6 114L350.3 115.9L348.3 116.6L346.3 116.6L338.3 113.5L328.3 111.2L326.3 111.1L320.3 112.9L318.3 112.3L317.5 108L318.6 104L324.3 96.1Z" fill="#ffe300"/>
<path d="M330.3 95.8L336.3 95.7L340.3 98.1L346.3 106.9L347.1 110L346.3 112L344.3 112.1L338.3 110.7L332.3 110.3L326.3 108.5L322.3 108.7L321.2 108L320.9 106.1L324 100L326.3 97.5Z" fill="#ffef00"/>
<path d="M330.3 99.2L334.3 98.8L337.3 100L339 102L339.7 104L338.7 106L334.3 107.7L332.3 107.6L329.1 106L327.2 104L327.2 102L328.6 100Z" fill="#fffc00"/>
</g>
<path d="M449 315.5L462 302L485 289L511 281L540 276.3L549 275.3L549 277.8L533.8 283L504.5 291.3L475 304.5L452.5 318.8L447.5 319Z" fill="#920000"/>
<g fill="none" stroke="#000" stroke-width="1.35" stroke-linejoin="round" stroke-linecap="round">
<path d="M129.5 565C129.7 564.2 129.3 565.2 130 562.8C130.7 560.3 132.3 554.2 133.8 550.2C135.2 546.3 137.1 542.3 138.8 539C140.4 535.7 142.1 532.8 143.8 530.2C145.4 527.8 146 525.5 148.8 524C151.5 522.5 156.2 521.8 160 521.5C163.8 521.2 168.3 521.6 171.2 522C174.2 522.4 174.8 523 177.5 524C180.2 525 184.6 526.3 187.5 527.8C190.4 529.2 193.1 530.9 195 532.8C196.9 534.6 197.1 537 198.8 539C200.4 541 202.3 543.5 205 544.5C207.7 545.5 211.2 545.5 215 545.2C218.8 545 223.8 544.2 227.5 542.8C231.2 541.3 234.8 539 237.5 536.5C240.2 534 242.3 530.9 243.8 527.8C245.2 524.6 245.9 521.7 246.2 517.8C246.6 513.8 246 508.8 245.8 504C245.5 499.2 244.7 493.6 245 489C245.3 484.4 246.8 480.7 247.5 476.5C248.2 472.3 248.6 467.9 249 464C249.4 460.1 249 456.3 250 453C251 449.7 252.9 447.2 255 444.2C257.1 441.3 260 438.2 262.5 435.5C265 432.8 268.1 430.3 270 428C271.9 425.7 273.5 423.4 273.8 421.8C274 420.1 272.9 418.6 271.2 418C269.6 417.4 266.3 417.9 263.8 418C261.2 418.1 258 418.6 256 418.5C254 418.4 252.2 417.9 251.5 417.5C250.8 417.1 251.2 417 252 416C252.8 415 254.1 413.5 256.2 411.8C258.4 410 261.9 407.4 265 405.5C268.1 403.6 270.8 402.6 275 400.5C279.2 398.4 285 395.5 290 393C295 390.5 300 388.2 305 385.5C310 382.8 315.8 379.5 320 376.8C324.2 374 326.9 371.5 330 369.2C333.1 367 336.2 365 338.8 363C341.2 361 342.3 360.7 345 357.5C347.7 354.3 352.3 348.3 355 344C357.7 339.7 359.2 335.2 361.2 331.5C363.3 327.8 364.8 324.6 367.5 321.5C370.2 318.4 373.8 315.7 377.5 312.8C381.2 309.8 385.4 306.9 390 304C394.6 301.1 400.4 298.2 405 295.2C409.6 292.3 413.8 289.6 417.5 286.5C421.2 283.4 425.2 279.2 427.5 276.5C429.8 273.8 431.2 272.1 431.2 270.2C431.2 268.4 427.7 266.5 427.5 265.2C427.3 264 427.5 264.2 430 262.8C432.5 261.3 438.3 258.8 442.5 256.5C446.7 254.2 451.2 251.3 455 249C458.8 246.7 462.1 244.8 465 242.8C467.9 240.7 471 239 472.5 236.5C474 234 473.6 230.2 473.8 227.8C473.9 225.3 472.9 223.8 473.6 222C474.3 220.2 475.6 218.5 478 217C480.4 215.5 484.3 214.2 488 213C491.7 211.8 496.7 210.7 500 209.6C503.3 208.5 507.7 207.7 508 206.4C508.3 205.1 505 203.6 502 202C499 200.4 494 198.8 490 197C486 195.2 481.7 193 478 191C474.3 189 471.2 187.5 468 185C464.8 182.5 460.9 178.8 459 176C457.1 173.2 456.6 170.7 456.4 168C456.2 165.3 456.9 163.2 458 160C459.1 156.8 461 152.7 463 149C465 145.3 467.6 141.2 470 138C472.4 134.8 476.2 129.2 477.6 130C479 130.8 477.7 139 478.4 143C479.1 147 480.1 150.5 482 154C483.9 157.5 487 161.3 490 164C493 166.7 496.7 168.9 500 170C503.3 171.1 506.7 171.1 510 170.4C513.3 169.7 516.7 168.1 520 166C523.3 163.9 527.2 159.8 530 158C532.8 156.2 533.9 155.8 537 155C540.1 154.2 544.7 153.2 548.5 153C552.3 152.8 556 153.2 560 153.8C564 154.2 568.3 155.2 572.5 156C576.7 156.8 580.8 158.4 585 158.8C589.2 159.1 593.8 158.8 597.5 158C601.2 157.2 604.4 155.3 607.5 153.8C610.6 152.2 613.5 149.9 616 148.8C618.5 147.6 620.2 147 622.5 147C624.8 147 626.7 147.2 630 148.8C633.3 150.2 637.5 153.6 642.5 156C647.5 158.4 654.2 161.1 660 163C665.8 164.9 671.3 165.9 677 167.3"/>
<path d="M677 359.6C671.3 361.2 665.3 362.8 660 364.2C654.7 365.7 650 367 645 368.5C640 370 635 371.8 630 373C625 374.2 619.6 375.4 615 376C610.4 376.6 606 376.8 602.5 376.8C599 376.7 596 376.3 593.8 375.5C591.5 374.7 589.5 373.4 588.8 371.8C588 370.1 589.7 367.4 589.5 365.5C589.3 363.6 589.1 361.8 587.5 360.5C585.9 359.2 584.2 359 580 357.5C575.8 356 567.9 353.5 562.5 351.5C557.1 349.5 552.1 347.5 547.5 345.2C542.9 343 538.8 340 535 337.8C531.2 335.5 528.6 333.2 525 332C521.4 330.8 517.3 330.6 513.5 330.5C509.7 330.4 505.9 330.7 502 331.5C498.1 332.3 493.7 333.6 490 335.2C486.3 336.9 483.3 339 480 341.5C476.7 344 473.3 347.2 470 350C466.7 352.8 462.9 355.4 460 358C457.1 360.6 455.4 362.8 452.5 365.5C449.6 368.2 445.4 372.1 442.5 374.2C439.6 376.4 437.1 377.9 435 378.5C432.9 379.1 431.9 378.7 430 378C428.1 377.3 426 374.7 423.8 374.2C421.5 373.8 419.4 374 416.2 375.5C413.1 377 408.1 380.5 405 383C401.9 385.5 399.4 387.8 397.5 390.5C395.6 393.2 394 396.5 393.8 399.2C393.5 402 394.4 404.5 396.2 406.8C398.1 409 401.5 411.5 405 413C408.5 414.5 413.3 415.2 417.5 415.5C421.7 415.8 426.2 415.6 430 415C433.8 414.4 436.7 413.5 440 411.8C443.3 410 446.7 406.5 450 404.2C453.3 402 456.7 399.9 460 398C463.3 396.1 467.1 394.9 470 393C472.9 391.1 475.7 388.7 477.5 386.8C479.3 384.8 479.2 382.8 481 381.5C482.8 380.2 485.7 378.5 488 379C490.3 379.5 492.2 382.1 495 384.2C497.8 386.4 501.2 389.2 505 391.8C508.8 394.2 512.9 396.8 517.5 399.2C522.1 401.8 527.5 404.5 532.5 406.8C537.5 409 541.7 410.5 547.5 412.5C553.3 414.5 560 416.3 567.5 418.5C575 420.7 584.2 423.3 592.5 425.5C600.8 427.7 609.2 429.9 617.5 431.8C625.8 433.6 635.4 435.4 642.5 436.8C649.6 438.1 654.2 439.1 660 440C665.8 440.9 671.3 441.6 677 442.4"/>
<path d="M677 310.2C669.7 311.1 662 312.5 655 312.8C648 313 641.2 312.2 635 311.5C628.8 310.8 622.3 309.8 617.5 308.5C612.7 307.2 610.1 305.2 606.2 304C602.4 302.8 598.4 301.5 594.5 301.5C590.6 301.5 586 303 583 304C580 305 578 306.1 576.2 307.8C574.5 309.4 572.7 311.7 572.5 314C572.3 316.3 573.3 319.2 575 321.5C576.7 323.8 579.2 326.2 582.5 327.8C585.8 329.3 590.4 330.4 595 331C599.6 331.6 604.2 331.8 610 331.5C615.8 331.2 623.3 330 630 329C636.7 328 644.2 326.7 650 325.2C655.8 323.8 660.5 321.5 665 320.2C669.5 319 673 318.4 677 317.5"/>
<path d="M677 259.7C673 259.1 668.9 258.1 665 257.8C661.1 257.4 655.2 256.5 653.8 257.8C652.3 259 655.2 262.8 656.2 265.2C657.3 267.8 658.5 270.5 660 272.8C661.5 275 662.2 277.6 665 279C667.8 280.4 673 280.5 677 281.2"/>
<path d="M677 337.5C673.8 338.4 670.7 339.4 667.5 340.2C664.3 341.1 658.4 342 658 342.8C657.6 343.5 661.8 343.9 665 344.5C668.2 345.1 673 345.6 677 346.2"/>
<path d="M677 86.5C674.7 88.1 671.8 89.2 670 91.2C668.2 93.3 666.8 96.2 666.2 98.8C665.8 101.2 666.2 103.8 667 106.2C667.8 108.8 669.6 111.5 671.2 113.8C672.9 116 675.1 117.9 677 120"/>
<path d="M677 511C675.1 513.7 672.4 516 671.2 519C670.1 522 669.8 525.7 670 529C670.2 532.3 671.3 535.7 672.5 539C673.7 542.3 675.5 545.7 677 549"/>
<path d="M382.5 491.8C384.2 490.8 388.8 490.3 392.5 489.2C396.2 488.2 400.4 486.7 405 485.5C409.6 484.3 415 483.1 420 482.2C425 481.4 430 480.9 435 480.5C440 480.1 446.5 479.7 450 480C453.5 480.3 456.2 481.4 456.2 482.5C456.2 483.6 452.7 485.4 450 486.8C447.3 488.1 443.8 489.3 440 490.5C436.2 491.7 431.7 492.8 427.5 493.8C423.3 494.7 418.4 495.5 415 496C411.6 496.5 409.5 496.5 407 496.8C404.5 497 402.3 497.3 400 497.2C397.7 497.2 395.9 496.6 393 496.2C390.1 495.9 384.2 495.8 382.5 495C380.8 494.2 380.8 492.7 382.5 491.8Z"/>
<path d="M677 81.2C673 80.8 669.1 80.1 665 80C660.9 79.9 657.5 80.1 652.5 80.5C647.5 80.9 640.4 81.6 635 82.5C629.6 83.4 625 84.6 620 86C615 87.4 610.4 88.9 605 91C599.6 93.1 592.3 97.1 587.5 98.8C582.7 100.4 579.8 101.2 576 101C572.2 100.8 568.5 99.8 565 97.5C561.5 95.2 557.7 91.2 555 87.5C552.3 83.8 550 78.8 548.8 75C547.5 71.2 548.5 67.5 547.5 65C546.5 62.5 544.8 61.2 542.5 60C540.2 58.8 536.5 57.8 534 57.5C531.5 57.2 529.1 57.4 527.5 58C525.9 58.6 524.9 59.2 524.5 61C524.1 62.8 525.6 66.5 525 69C524.4 71.5 523.5 73.8 521 76C518.5 78.2 514.3 80.6 510 82.5C505.7 84.4 500 86.7 495 87.5C490 88.3 484.2 87.7 480 87.5C475.8 87.3 472.5 86.7 470 86.2C467.5 85.8 467.5 85.8 465 85C462.5 84.2 458.3 82.7 455 81.2C451.7 79.8 447.9 78.1 445 76.2C442.1 74.4 439.6 72.3 437.5 70C435.4 67.7 433.7 65.3 432.5 62.5C431.3 59.7 431.1 56.2 430.4 53"/>
<path d="M556 53C556.5 53.7 556 53.2 557.5 55C559 56.8 562.3 61.5 565 63.8C567.7 66 570.8 68.2 573.8 68.8C576.7 69.3 579.4 67.6 582.5 67C585.6 66.4 587.9 65.4 592.5 65C597.1 64.6 603.8 64.7 610 64.5C616.2 64.3 623.3 64.4 630 63.8C636.7 63.1 644 62 650 60.5C656 59 663.1 56.2 666.2 55C669.4 53.8 668.1 53.7 669 53"/>
<path d="M147 322C147.6 320.9 147.8 320.5 148.8 318.8C149.7 317 150.4 314 152.5 311.2C154.6 308.5 158.3 304.9 161.2 302.5C164.2 300.1 167.3 298.3 170 296.9C172.7 295.5 175.4 294.5 177.5 294C179.6 293.5 181.2 293.3 182.5 293.8C183.8 294.2 185 295.2 185.6 296.9C186.2 298.6 186.3 301.1 186.2 303.8C186.2 306.4 185.1 309.6 185 312.5C184.9 315.4 185.3 318.8 185.6 321.2C185.9 323.7 186.4 324.5 186.9 327C187.4 329.5 187.4 333.2 188.8 336.5C190.1 339.8 192.7 343.6 195 346.5C197.3 349.4 200.4 352.1 202.5 354C204.6 355.9 205.6 355.7 207.5 358C209.4 360.3 212.2 364.7 213.8 368C215.3 371.3 217.2 374.2 217 378C216.8 381.8 214.5 386.3 212.5 390.5C210.5 394.7 207.9 398.4 205 403C202.1 407.6 197.7 413.4 195 418C192.3 422.6 190.4 426.1 188.8 430.5C187.1 434.9 185.8 441 185 444.2C184.2 447.5 184 448.6 184 450C184 451.4 184.5 452.3 185 452.5C185.5 452.7 185.8 452.2 187 451C188.2 449.8 190.1 448.7 192.5 445.5C194.9 442.3 197.9 436.3 201.2 431.8C204.6 427.2 208.5 422.4 212.5 418C216.5 413.6 220.8 409.7 225 405.5C229.2 401.3 234.2 396.8 237.5 393C240.8 389.2 243.8 385.7 245 383C246.2 380.3 245.5 379.2 245 376.8C244.5 374.2 242 371.1 242 368C242 364.9 244.3 362 245 358C245.7 354 245.4 348.8 246.2 344C247.1 339.2 248.3 333.4 250 329C251.7 324.6 254.2 320.2 256.2 317.8C258.3 315.2 259.4 313.8 262.5 314C265.6 314.2 270.4 317.5 275 319C279.6 320.5 285 321.7 290 322.8C295 323.8 301.2 324.6 305 325.2C308.8 325.9 310.2 326.1 312.5 326.5C314.8 326.9 316.7 327.4 318.8 327.4C320.8 327.4 323.1 327.1 325 326.5C326.9 325.9 329 325.5 330 324C331 322.5 330.4 319.8 331.2 317.8C332.1 315.7 332.7 313.8 335 311.5C337.3 309.2 341.7 306.5 345 304C348.3 301.5 352.1 298.8 355 296.5C357.9 294.2 361.5 292.3 362.5 290.2C363.5 288.2 360.4 286.1 361.2 284C362.1 281.9 363.5 280 367.5 277.8C371.5 275.5 379.6 272.5 385 270.2C390.4 268 395.4 265.9 400 264C404.6 262.1 407.9 260.9 412.5 259C417.1 257.1 422.9 255.2 427.5 252.8C432.1 250.2 436.2 246.9 440 244C443.8 241.1 448.2 237.6 450 235.2C451.8 232.9 450.7 231.7 450.6 230C450.5 228.3 450.1 227.1 449.4 225C448.7 222.9 447.2 220 446.2 217.5C445.3 215 444.6 212.5 443.8 210C442.9 207.5 442.2 205 441.2 202.5C440.3 200 438.9 197.5 438 195C437.1 192.5 436.1 190 435.6 187.5C435.1 185 434.7 182.3 435 180C435.3 177.7 436.5 176 437.5 173.8C438.5 171.5 440.3 168.5 441.2 166.2C442.2 164 442.4 162.4 443 160C443.6 157.6 444.5 154.1 444.8 151.6C445.1 149.1 444.9 147.3 444.8 145.1C444.7 142.9 444.6 140.8 444.3 138.6C444 136.4 443.7 134.1 443.1 132.1C442.5 130.1 441.7 128.3 440.7 126.4C439.7 124.5 438.4 122.5 437 120.7C435.6 118.9 433.9 117 432.2 115.5C430.5 114 428.8 113 427 111.5C425.2 110 423 108.4 421.2 106.2C419.5 104.1 417.4 101.2 416.2 98.8C415.1 96.2 415 94 414.4 91.2C413.8 88.5 412.9 85.6 412.5 82.5C412.1 79.4 411.9 75.8 412 72.5C412.1 69.2 412.2 65.8 413 62.5C413.8 59.2 415.3 56.2 416.5 53"/>
<path d="M398 53C398.7 56.2 399.5 58.8 400 62.5C400.5 66.2 401 70.8 401.2 75C401.5 79.2 401.2 83.8 401.5 87.5C401.8 91.2 402 94.8 402.8 97.5C403.5 100.2 404.6 101.8 406.2 103.8C407.9 105.7 410.4 107.5 412.5 109C414.6 110.5 417.1 111.8 419 113C420.9 114.2 422.4 114.8 424 116C425.6 117.2 427.5 118.3 428.9 119.9C430.3 121.5 431.6 123.7 432.6 125.6C433.6 127.5 434.5 129.4 435 131.3C435.5 133.2 435.7 135.1 435.8 137C435.9 138.9 435.6 140.8 435.4 142.6C435.2 144.3 434.7 145.9 434.6 147.5C434.5 149.1 434.8 150.6 435 152.4C435.2 154.2 435.7 156.3 435.8 158.1C435.9 159.9 435.7 161.4 435.6 163C435.5 164.6 435.7 165.7 435 167.5C434.3 169.3 432.3 171.7 431.2 173.8C430.2 175.8 429.1 177.7 428.8 180C428.4 182.3 428.9 184.8 429.4 187.5C429.9 190.2 431.3 193.5 431.9 196.2C432.5 199 432.9 201 433 203.8C433.1 206.5 433 210 432.5 212.5C432 215 430.9 216.7 430 218.8C429.1 220.8 427.6 222.9 426.9 225C426.2 227.1 426.1 229.4 425.6 231.2C425.1 233.1 425.4 234.4 424 236C422.6 237.6 420.7 239.2 417.5 241C414.3 242.8 409.6 244.3 405 246.5C400.4 248.7 395 251.5 390 254C385 256.5 379.6 259.2 375 261.5C370.4 263.8 365.4 266.1 362.5 267.8C359.6 269.4 360 270.5 357.5 271.5C355 272.5 350.8 272.9 347.5 273.8C344.2 274.6 339 274.8 337.5 276.5C336 278.2 339 281.7 338.8 284C338.5 286.3 337.7 288.4 336.2 290.2C334.8 292.1 332.7 293.9 330 295.2C327.3 296.6 323.2 297.1 320 298.5C316.8 299.9 313.5 301.7 311 303.5C308.5 305.3 307.7 308 305 309.5C302.3 311 299.2 312.6 295 312.5C290.8 312.4 285 310.4 280 309C275 307.6 269.2 304.6 265 304C260.8 303.4 257.9 304 255 305.2C252.1 306.5 249.2 309.4 247.5 311.5C245.8 313.6 246.7 315.7 245 317.8C243.3 319.8 240 322.5 237.5 324C235 325.5 232.5 325.7 230 326.5C227.5 327.3 224.8 327.8 222.5 329C220.2 330.2 217.9 334.4 216.2 334C214.6 333.6 213.5 332.2 212.8 326.5C212.1 320.8 212.3 307.5 211.9 300C211.5 292.5 211 286.9 210.6 281.2C210.2 275.6 209.8 270 209.4 266.2C209.1 262.5 208.4 261 208.5 258.8C208.6 256.5 210.1 255 210 253C209.9 251 208.2 249.2 208 247C207.8 244.8 208.3 242.2 209 240C209.7 237.8 210.8 235.6 212 234C213.2 232.4 214.1 231.2 216.2 230.5C218.4 229.8 221.5 229.7 225 229.6C228.5 229.5 233.3 230 237.5 230C241.7 230 245.4 229.7 250 229.6C254.6 229.5 260.8 229.6 265 229.3C269.2 229 272.5 228.6 275 227.8C277.5 226.9 278.5 225.1 280 224C281.5 222.9 282.7 222 284 221"/>
<path d="M392.5 53C392.7 53.9 392.2 54.2 393 55.6C393.8 57 396.1 58.6 397 61.2C397.9 63.9 397.9 67.7 398.1 71.2C398.4 74.8 398.5 78.8 398.5 82.5C398.5 86.2 397.9 90.8 398.1 93.8C398.4 96.8 399.1 98.6 400 100.5C400.9 102.4 402.1 103.2 403.8 105C405.4 106.8 407.6 109.4 410 111.2C412.4 113.1 416.1 114.6 418.3 116C420.5 117.4 421.8 118.4 423.2 119.9C424.6 121.4 425.6 123 426.5 124.8C427.4 126.5 428.2 128.5 428.5 130.4C428.8 132.3 428.7 134.2 428.5 136.1C428.3 138 427.8 140 427.3 141.8C426.8 143.6 426 145.2 425.7 146.7C425.4 148.2 425.4 149.3 425.7 150.8C426 152.3 427 154.1 427.3 155.7C427.6 157.3 427.8 158.5 427.7 160.5C427.6 162.5 427.6 165.3 426.9 167.5C426.2 169.7 424.6 171.7 423.8 173.8C422.9 175.8 422.2 177.7 421.9 180C421.6 182.3 421.7 184.8 421.9 187.5C422.1 190.2 422.6 193.3 423 196.2C423.4 199.2 424.3 202.1 424.4 205C424.5 207.9 424.5 211 423.8 213.8C423 216.5 421.5 219.2 420 221.2C418.5 223.3 416.9 224.5 415 226.2C413.1 228 410.6 230.2 408.8 231.9C406.9 233.6 407.3 234.2 403.8 236.2C400.2 238.3 392.7 241.9 387.5 244C382.3 246.1 377.1 247.1 372.5 249C367.9 250.9 363.3 253.2 360 255.2C356.7 257.3 355.2 260.1 352.5 261.5C349.8 262.9 346.2 263.8 343.6 263.8C341 263.7 338.6 261.8 337 261C335.4 260.2 334.9 260 333.8 258.8C332.6 257.5 331.2 255.8 330 253.8C328.8 251.7 327.5 248.6 326.2 246.2C325 243.9 323.8 240.6 322.8 239.4C321.7 238.2 321 238.5 320 239.2C319 239.9 317.7 241.7 316.9 243.8C316.1 245.8 315.2 248.5 315 251.2C314.8 254 315.3 257.1 315.6 260C315.9 262.9 316.8 266.5 316.9 268.8C317 271 317.2 272.1 316.2 273.8C315.3 275.4 313.5 277.2 311.2 278.8C309 280.3 305 281.5 302.5 283C300 284.5 297.9 286.5 296.2 288C294.6 289.5 294 290.8 292.5 292C291 293.2 289.6 294.6 287.5 295.2C285.4 295.9 282.9 296.1 280 296C277.1 295.9 273.3 294.4 270 294.5C266.7 294.6 262.9 295.5 260 296.5C257.1 297.5 255.4 298.7 252.5 300.2C249.6 301.8 245.2 305 242.5 306C239.8 307 238.1 307.7 236.2 306.5C234.4 305.3 232.3 302.3 231.2 299C230.2 295.7 229.4 290.2 230 286.5C230.6 282.8 232.9 279.6 235 276.5C237.1 273.4 239.6 270.5 242.5 267.8C245.4 265 249.2 262.2 252.5 260.2C255.8 258.3 260 257.8 262.5 256.2C265 254.8 265.6 252.9 267.5 251.2C269.4 249.6 271.7 247.8 273.8 246.2C275.8 244.7 278.3 243.5 280 241.9C281.7 240.3 282.4 238.3 283.8 236.9C285.1 235.5 286.8 234.7 288 233.8C289.2 232.8 291.2 232.2 291.2 231.2C291.2 230.3 288.8 229.5 288 228C287.2 226.5 286.3 224 286.5 222C286.7 220 288.3 218 289 216C289.7 214 290 212 290.5 210"/>
<path d="M224 227.6C226.7 227.3 228.5 226.8 232 226.6C235.5 226.4 241.2 226.5 245 226.6C248.8 226.7 251.7 227.2 255 227.4C258.3 227.6 262.1 227.8 265 227.6C267.9 227.4 270.5 227.2 272.5 226.4C274.5 225.6 275.8 223.8 277 222.6C278.2 221.4 278.7 220.5 279.5 219.5"/>
<path d="M384.5 52.5C380.1 54.5 376 56.8 371.2 58.5C366.5 60.2 361 61.3 356.2 62.8C351.5 64.2 347.1 65.7 342.5 67.2"/>
<path d="M373 52.5C369.7 53.8 365.8 55.2 363 56.5C360.2 57.8 359.7 58.5 356.2 60C352.8 61.5 347.1 63.5 342.5 65.2"/>
<path d="M341 69C344 67.9 347.7 66.6 350 65.8C352.3 65 352.5 64.7 355 63.9C357.5 63.1 361.7 62.2 365 61.2C368.3 60.3 371.9 58.8 375 58C378.1 57.2 381.2 56.4 383.8 56.2C386.2 56.1 388.4 56.3 390 57C391.6 57.7 392.9 58.8 393.6 60.5C394.3 62.2 394.1 63.8 394.4 67.5C394.6 71.2 395 78.1 395.1 82.5C395.2 86.9 394.4 90.5 394.8 93.8C395.1 97 396.3 99.8 397 102C397.7 104.2 397.8 105.5 399 107C400.2 108.5 402 109.6 404 111C406 112.4 409 114.2 411 115.5C413 116.8 414.4 117.7 415.9 119.1C417.4 120.5 418.9 122.3 420 123.9C421.1 125.5 421.9 127 422.4 128.8C422.9 130.6 422.9 132.7 422.8 134.5C422.7 136.3 422.2 137.9 421.6 139.4C421 140.9 420 142.2 419.1 143.5C418.2 144.8 416.9 146.2 416.3 147.5C415.7 148.8 415.5 150 415.5 151.6C415.5 153.2 416 155.5 416.3 157.3C416.6 159.1 417.1 160.7 417.1 162.2C417.1 163.7 416.9 164.3 416.2 166.2C415.6 168.2 413.7 171.2 413 173.8C412.3 176.2 412 178.5 411.9 181.2C411.8 184 412.2 187.1 412.5 190C412.8 192.9 413.3 195.8 413.8 198.8C414.2 201.7 414.9 204.8 415 207.5C415.1 210.2 415.2 212.7 414.4 215C413.6 217.3 411.8 219.4 410 221.2C408.2 223.1 406.2 224.7 403.8 226.2C401.2 227.8 398.1 229.3 395 230.6C391.9 231.8 388.8 232.9 385 233.8C381.2 234.6 375.8 234.9 372.5 235.6C369.2 236.3 367.9 236.7 365 238C362.1 239.3 357.3 241.9 355 243.5C352.7 245.1 353.8 246.7 351.2 247.8C348.7 248.8 342.7 250.6 339.7 249.6C336.7 248.6 334.8 244.5 333 241.9C331.2 239.3 329.7 236.6 328.8 233.8C327.8 230.9 327.9 228 327.5 225C327.1 222 326.7 218.1 326.5 216C326.3 213.9 326.5 213.8 326.2 212.5C326 211.2 326 208.5 325 208C324 207.5 321.7 208.8 320 209.4C318.3 210.1 316.5 212.3 315 211.9C313.5 211.5 311.6 208.7 311.2 206.9C310.9 205.1 312.4 203.7 313 201.2C313.6 198.8 314.4 195.2 315 192.5C315.6 189.8 316.2 187.3 316.9 185C317.6 182.7 318.7 180.8 319.4 178.8C320.1 176.8 321.6 174 321.2 173C320.9 172 319.2 172.2 317.5 172.5C315.8 172.8 313.1 173.3 311.2 175C309.4 176.7 307.6 180 306.2 182.5C304.9 185 303.8 187.6 303 190C302.2 192.4 302.1 194.5 301.2 197C300.4 199.5 299.2 202.5 298 205C296.8 207.5 295.3 209.7 294 212"/>
<path d="M309.2 104C308.2 103.4 306.8 102.8 306.2 102.2C305.6 101.6 305.2 102.1 305.3 100.5C305.4 98.9 306.2 94.4 307 92.6C307.8 90.8 308.8 90.6 310 89.5C311.2 88.4 312.3 87.1 314 85.8C315.7 84.5 318 83.1 320 81.8C322 80.5 323.8 79.3 326 78C328.2 76.7 330.8 75 333 74C335.2 73 336.7 72.4 339 71.7C341.3 71 344.3 70.2 347 69.6C349.7 69 350.9 68.6 355 68.2C359.1 67.9 367.5 68 371.5 67.5C375.5 67 376.6 65.8 379 65.2C381.4 64.8 384.1 64.3 385.8 64.5C387.4 64.7 388.2 65.3 389 66.4C389.8 67.5 389.9 68.6 390.2 71.2C390.6 73.9 391.1 78.8 391 82.5C390.9 86.2 389.9 91 389.5 93.8C389.1 96.5 388.6 97 388.8 99C388.9 101 389.4 104 390.2 106C391.1 108 392 109.4 394 111C396 112.6 399.8 114.2 402.1 115.5C404.4 116.8 406.1 117.8 407.8 119.1C409.6 120.4 411.2 121.6 412.6 123.1C414 124.6 415.2 126.4 415.9 128C416.6 129.6 416.8 131.1 416.7 132.9C416.6 134.7 416.2 137 415.5 138.6C414.8 140.2 413.6 141.2 412.6 142.6C411.6 143.9 410.2 145.3 409.4 146.7C408.6 148.1 408.1 149.3 407.8 150.8C407.5 152.3 407.6 154.1 407.4 155.7C407.2 157.3 406.9 158.9 406.5 160.5C406.1 162.1 405.9 163.2 405 165C404.1 166.8 402.3 169.4 401.2 171.2C400.2 173.1 399.3 174 398.8 176.2C398.2 178.5 398 182.1 398 185C398 187.9 398.4 190.6 398.8 193.8C399.1 196.9 399.8 200.8 400 203.8C400.2 206.7 400.4 209.2 400 211.2C399.6 213.3 398.8 214.7 397.5 216.2C396.2 217.8 394.6 219.6 392.5 220.6C390.4 221.6 388.3 222 385 222.5C381.7 223 376.7 223.2 372.5 223.8C368.3 224.3 363.8 224.8 360 225.6C356.2 226.4 352.7 228.1 350 228.8C347.3 229.4 345.7 230.4 343.6 229.4C341.5 228.4 338.6 225.1 337.2 222.5C335.9 219.9 335.7 216.7 335.6 213.8C335.5 210.8 336.2 207.5 336.9 205C337.6 202.5 338.4 200.8 340 198.8C341.6 196.7 344.4 194.4 346.2 192.5C348.1 190.6 350 189.2 351.2 187.5C352.5 185.8 353.1 185 353.8 182.5C354.4 180 354.9 174.6 355 172.5C355.1 170.4 354.8 171.7 354.4 170C354 168.3 353.2 164.4 352.5 162.5C351.8 160.6 351 159.1 350 158.8C349 158.4 348.1 160.4 346.2 160.6C344.4 160.8 341.2 160.5 338.8 160C336.2 159.5 333.3 158.8 331.2 157.5C329.2 156.2 327.6 154.2 326.2 152.5C324.9 150.8 323.7 148.3 323 147C322.3 145.7 322.3 144.4 321.9 144.4C321.5 144.4 321 145.8 320.6 146.9C320.2 148 319.9 149.7 319.5 151C319.1 152.3 318.7 154.7 318 155C317.3 155.3 316.3 153.8 315.5 153C314.7 152.2 313.8 151 313 150"/>
<path d="M313.2 103C312.8 102.2 311.9 101.7 311.9 100.5C311.9 99.3 312.5 97.4 313.2 96C313.9 94.6 316.4 92.8 316.2 92.2C316 91.6 312.8 93.1 311.9 92.6C311 92.1 310.6 89.9 311 89C311.4 88.1 312.8 87.6 314 87C315.2 86.4 316.8 85.9 318 85.2C319.2 84.5 319.7 83.8 321 82.8C322.3 81.8 324.2 80.6 326 79.5C327.8 78.4 330.2 77 332 76C333.8 75 335.7 73.8 337 73.2C338.3 72.6 338.2 72.7 340 72.4C341.8 72.1 345 71.5 347.5 71.2C350 71 352.9 70.8 355 70.9C357.1 71 358.6 71.6 360.2 72C361.9 72.4 363.2 73 364.8 73.5C366.2 74 368.1 74.2 369.2 75C370.4 75.8 370.8 76.8 371.5 78C372.2 79.2 372.9 81.1 373.8 82.5C374.6 83.9 375.9 85 376.8 86.2C377.6 87.5 378.2 88.8 378.6 90C379 91.2 379.2 92.5 379.4 93.8C379.6 95 379.6 96.1 379.8 97.5C379.9 98.9 380.2 100.6 380.5 102C380.8 103.4 380.7 104.6 381.2 106C381.8 107.4 382.6 109 384 110.5C385.4 112 388 113.6 389.9 115C391.8 116.4 393.7 117.5 395.6 118.7C397.5 119.9 399.7 120.8 401.3 121.9C402.9 123.1 404.2 124.3 405.3 125.6C406.4 126.9 407.6 128.1 408.2 129.6C408.8 131.1 408.8 132.9 408.6 134.5C408.4 136.1 407.7 137.8 407 139.4C406.3 141 405.2 142.7 404.5 144.3C403.8 145.9 403 147.5 402.5 149.1C402 150.7 402.2 152.4 401.7 154C401.2 155.6 400.5 157.5 399.6 158.9C398.7 160.3 397.5 161.2 396.4 162.2C395.3 163.1 394.6 163.9 393.1 164.6C391.6 165.3 389.1 165.6 387.5 166.2C385.9 166.9 384.5 167.1 383.8 168.8C383 170.4 383.1 173.5 383 176.2C382.9 179 383 182.3 383 185C383 187.7 383.2 190.4 383 192.5C382.8 194.6 382.7 195.9 381.9 197.5C381.1 199.1 379.7 200.9 378 202C376.3 203.1 373.7 203.9 371.5 204.2C369.3 204.5 366.6 204.2 365 204C363.4 203.8 362.8 204.2 362 203C361.2 201.8 360.2 199.6 360 197C359.8 194.4 360.6 191.2 360.6 187.5C360.6 183.8 360.5 179.2 360 175C359.5 170.8 358.5 166.2 357.5 162.5C356.5 158.8 355.2 155.9 353.8 152.5C352.3 149.1 350.6 144.7 348.8 142C346.9 139.3 344.6 137.6 342.5 136.2C340.4 134.9 338.5 134.3 336.2 133.8C334 133.2 330.8 133.8 328.8 133C326.7 132.2 324.8 130.6 323.8 128.8C322.7 126.9 323 122.1 322.5 122C322 121.9 321.6 126 321 128C320.4 130 319.8 131.8 318.8 133.8C317.8 135.8 316 138.1 315 140C314 141.9 313.3 143.3 312.5 145"/>
<path d="M312.3 105.5C312.6 104.7 312.5 104 313.2 103C313.9 102 315.9 100.9 316.7 99.6C317.5 98.3 317.2 96.7 318 95.2C318.8 93.8 320.1 92.1 321.5 90.9C322.9 89.7 326.1 88.5 326.3 87.8C326.6 87.1 323.6 87.5 323 86.9C322.4 86.3 322 85.2 322.6 84.3C323.2 83.3 325.1 82.2 326.7 81.2C328.3 80.2 330.5 79 332 78.2C333.5 77.4 334.3 76.8 335.5 76.4C336.7 76 337.6 76.1 339 76C340.4 75.9 342.2 75.8 344.2 75.6C346.2 75.4 349.5 74.4 350.8 75.1C352.1 75.8 352.1 78 352 79.5C351.9 81 350 82.5 350 84C350 85.5 351.9 87.1 352 88.5C352.1 89.9 350.2 90.8 350.5 92.2C350.8 93.8 352.4 95.4 353.5 97.5C354.6 99.6 356 103.1 357.2 105C358.5 106.9 359.9 107.9 361 109C362.1 110.1 363.2 111.8 364 111.5C364.8 111.2 365.2 109.1 366 107.5C366.8 105.9 368 103.3 369 102C370 100.7 370.8 99.3 372 99.5C373.2 99.7 374.9 101.7 376 103C377.1 104.3 377.7 106.1 378.5 107.5C379.3 108.9 379.9 109.6 381 111.5C382.1 113.4 383.5 116.9 385 118.7C386.5 120.5 388.4 121 390 122.3C391.6 123.6 393.4 125.1 394.8 126.4C396.1 127.8 397.6 129.1 398.4 130.4C399.2 131.8 399.5 132.9 399.6 134.5C399.8 136.1 399.6 138.3 399.3 140.2C399 142.1 398.7 144.2 398 146C397.3 147.8 396.2 149.9 395 151.2C393.8 152.6 392.2 153.7 390.5 154C388.8 154.3 386.8 153.9 385 153C383.2 152.1 381.7 150.4 380 148.8C378.3 147.1 376.4 143.6 375 143C373.6 142.4 372.5 143.4 371.9 145C371.3 146.6 371.1 149.6 371.2 152.5C371.4 155.4 372.3 159.6 373 162.5C373.7 165.4 375.2 167.7 375.6 170C376 172.3 375.8 174.3 375.6 176.2C375.4 178.2 375 180.7 374.4 181.9C373.8 183.2 372.8 184.7 371.9 183.8C371 182.8 369.7 179 368.8 176.2C367.8 173.5 367.1 170.2 366.2 167.5C365.4 164.8 364.6 162.2 363.8 160C362.9 157.8 362.3 156.2 361.2 154C360.2 151.8 358.6 149 357.5 146.5C356.4 144 355.3 141.2 354.4 139C353.5 136.8 352.9 135.2 352 133.5C351.1 131.8 350 130.4 349 129C348 127.6 347.2 126.2 346 125C344.8 123.8 343.2 122.5 342 121.5C340.8 120.5 340.6 119.9 339 119C337.4 118.1 334.7 116.5 332.5 116C330.3 115.5 328.1 115.4 326 116C323.9 116.6 321.8 118.5 320 119.5C318.2 120.5 316.5 121.5 315 122C313.5 122.5 312.3 122.3 311 122.5"/>
<path d="M317 108C317.1 106.8 317.3 105.3 318 104C318.7 102.7 319.7 101.5 321 100C322.3 98.5 324.3 96 326 95C327.7 94 329 94.3 331 94.2C333 94.1 336.2 94 338 94.5C339.8 95 340.8 95.9 342 97C343.2 98.1 344 99.7 345 101C346 102.3 347.1 103.5 348 105C348.9 106.5 350 108.5 350.5 110C351 111.5 351.4 112.9 351.2 114C350.9 115.1 350 116.2 349 116.5C348 116.8 346.6 116.4 345 116C343.4 115.6 341.5 114.6 339.5 114C337.5 113.4 335.2 113.2 333 112.5C330.8 111.8 327.6 110.1 326 110C324.4 109.9 324.5 111.3 323.5 112C322.5 112.7 321 114.1 320 114C319 113.9 318 112.5 317.5 111.5C317 110.5 316.9 109.2 317 108Z"/>
<path d="M329.4 103.2l1.5 1.6l-1.5 1.2l-1.5 -1.2z" stroke-width="0.9"/>
<path d="M336.2 103.2l1.5 1.6l-1.5 1.2l-1.5 -1.2z" stroke-width="0.9"/>
<path d="M363 52.5L355 57L343.75 62.7"/>
</g>
<path d="M123.3 54.0 L354.0 54.0 L354.0 58.3 L350.4 58.3 L350.4 62.5 L343.4 62.5 L343.4 66.8 L336.3 66.8 L336.3 71.0 L329.2 71.0 L329.2 75.3 L322.2 75.3 L322.2 79.5 L315.1 79.5 L315.1 83.8 L308.0 83.8 L308.0 88.0 L301.0 88.0 L301.0 92.3 L297.4 92.3 L297.4 96.5 L293.9 96.5 L293.9 100.8 L286.8 100.8 L286.8 105.0 L286.8 105.0 L286.8 109.2 L311.6 109.2 L311.6 113.5 L311.6 113.5 L311.6 117.7 L304.5 117.7 L304.5 122.0 L304.5 122.0 L304.5 126.2 L304.5 126.2 L304.5 130.5 L304.5 130.5 L304.5 134.7 L304.5 134.7 L304.5 139.0 L304.5 139.0 L304.5 143.2 L304.5 143.2 L304.5 147.5 L308.0 147.5 L308.0 151.7 L308.0 151.7 L308.0 156.0 L301.0 156.0 L301.0 160.2 L297.4 160.2 L297.4 164.4 L293.9 164.4 L293.9 168.7 L293.9 168.7 L293.9 172.9 L290.4 172.9 L290.4 177.2 L290.4 177.2 L290.4 181.4 L290.4 181.4 L290.4 185.7 L286.8 185.7 L286.8 189.9 L286.8 189.9 L286.8 194.2 L286.8 194.2 L286.8 198.4 L286.8 198.4 L286.8 202.7 L286.8 202.7 L286.8 206.9 L286.8 206.9 L286.8 211.2 L286.8 211.2 L286.8 215.4 L286.8 215.4 L286.8 219.6 L272.7 219.6 L272.7 223.9 L240.9 223.9 L240.9 228.1 L216.2 228.1 L216.2 232.4 L209.1 232.4 L209.1 236.6 L202.1 236.6 L202.1 240.9 L198.5 240.9 L198.5 245.1 L195.0 245.1 L195.0 249.4 L191.5 249.4 L191.5 253.6 L187.9 253.6 L187.9 257.9 L187.9 257.9 L187.9 262.1 L184.4 262.1 L184.4 266.4 L180.9 266.4 L180.9 270.6 L177.3 270.6 L177.3 274.8 L173.8 274.8 L173.8 279.1 L173.8 279.1 L173.8 283.3 L166.7 283.3 L166.7 287.6 L163.2 287.6 L163.2 291.8 L159.7 291.8 L159.7 296.1 L156.1 296.1 L156.1 300.3 L156.1 300.3 L156.1 304.6 L149.1 304.6 L149.1 308.8 L145.5 308.8 L145.5 313.1 L145.5 313.1 L145.5 317.3 L149.1 317.3 L149.1 321.5 L149.1 321.5 L149.1 325.8 L152.6 325.8 L152.6 330.0 L152.6 330.0 L152.6 334.3 L145.5 334.3 L145.5 338.5 L149.1 338.5 L149.1 342.8 L149.1 342.8 L149.1 347.0 L149.1 347.0 L149.1 351.3 L149.1 351.3 L149.1 355.5 L152.6 355.5 L152.6 359.8 L152.6 359.8 L152.6 364.0 L152.6 364.0 L152.6 368.3 L149.1 368.3 L149.1 372.5 L145.5 372.5 L145.5 376.7 L145.5 376.7 L145.5 381.0 L142.0 381.0 L142.0 385.2 L142.0 385.2 L142.0 389.5 L142.0 389.5 L142.0 393.7 L138.5 393.7 L138.5 398.0 L138.5 398.0 L138.5 402.2 L138.5 402.2 L138.5 406.5 L138.5 406.5 L138.5 410.7 L138.5 410.7 L138.5 415.0 L138.5 415.0 L138.5 419.2 L138.5 419.2 L138.5 423.5 L138.5 423.5 L138.5 427.7 L138.5 427.7 L138.5 431.9 L142.0 431.9 L142.0 436.2 L142.0 436.2 L142.0 440.4 L142.0 440.4 L142.0 444.7 L142.0 444.7 L142.0 448.9 L138.5 448.9 L138.5 453.2 L134.9 453.2 L134.9 457.4 L131.4 457.4 L131.4 461.7 L127.9 461.7 L127.9 465.9 L123.3 465.9 Z M293.9 105.0 H311.6 V109.2 H293.9 Z" fill="#fff" shape-rendering="crispEdges"/>
<path d="M305.3 118L304.8 135L304.8 147.3L308.2 147.4L308.2 155.8L300.8 155.9L300.8 160.6L297.2 160.7L297.2 164.4L294.2 164.5L293.2 168.5L290.2 176L288.4 184L287 190L286.8 205L286.8 216L289 216L290 214L289.2 212L291.3 210L290.3 208L291.7 206L290.2 204L291.9 202L291.1 200L293 198L291.8 196L293 194L292.4 192L295.2 190L294.8 188L296.8 186L295.7 184L297.7 182L297.3 180L299.5 178L298.7 176L300.1 174L299.8 172L302.5 170L302.2 168L305.3 166L307 164L311.7 162L311.3 160L313.8 158L313.2 156L314.5 154L313.9 152L315.1 150L313.1 148L313.5 146L311.1 144L312 142L310.3 140L311.5 138L309.6 136L310 134L309 132L311 130L309.8 128L311 126L309.1 124L310.3 122L309.1 120L310.5 118Z" fill="#050300"/>
<rect x="297.4" y="160.5" width="3.6" height="3.7" fill="#1fe8c8" shape-rendering="crispEdges"/>
<g fill="#b8b000"><rect x="309.2" y="127" width="1.5" height="2.4"/><rect x="309.6" y="139" width="1.5" height="3.4"/><rect x="307" y="153" width="2.4" height="1.6"/><rect x="303.5" y="158.6" width="2" height="1.6"/><rect x="297.5" y="170" width="1.8" height="2"/><rect x="290" y="197" width="2" height="5"/><rect x="306.5" y="146" width="1.4" height="2.6"/><rect x="294.5" y="180" width="1.6" height="2"/></g>
<g fill="#ff8c00"><rect x="301" y="166.5" width="3" height="1.6"/><rect x="296" y="177" width="2.5" height="1.5"/></g>
<path d="M294.5 188L292.2 197L291 207L290.2 215" fill="none" stroke="#e8a000" stroke-width="1.1"/>
<path d="M296.2 187L293.6 197L292.3 207L291.4 216" fill="none" stroke="#000" stroke-width="1"/>
<g fill="none" stroke-linejoin="round">
<path d="M298.6 94L310.6 87.3L319.4 81.2L329.9 73.3L339.2 66.2" stroke="#a02800" stroke-width="2.6"/>
<path d="M298.6 94L310.6 87.3L319.4 81.2L329.9 73.3L339.2 66.2" stroke="#000" stroke-width="2.6" stroke-dasharray="1.2 0.9" stroke-opacity="0.85"/>
</g>
<g fill="none" stroke="#0a0a0a" stroke-width="1.25" stroke-linejoin="round">
<path d="M123 144.6L133.8 148.8L142.5 148.8L148.8 152L160 152L166.8 150L161.8 145L170.8 135L181.2 142.5L188.8 141.2L194.5 133.8L207.5 128.8L216.2 126.2L225 120L237.5 115.5L245 117L252.5 115.5L262.5 119.5L272.5 123L277.5 126.2L283.8 131.2L288 137.5L290 145L289.4 153.8L283.8 155.6L285.6 162.5L291.2 163.8L290 168.8L288 175L287.8 185L287 192.5L284.4 205L281.2 216.2L278.8 218.8L272.5 221.2L260 222.5L250 224L237.5 223.8L227.5 225L217.5 227.5L208.8 231.2L202.5 235L197.5 238.8"/>
<path d="M284.4 54L282.5 65L280 77.5L279.8 87.5L281.2 97L290.6 97.2L295 92.5L305 86.2L317.5 78.8L327.5 72.5L336.2 66.2L345 60L350 56.2L353 54"/>
<path d="M292.5 54L291.2 62.5L293 71.2L297.5 77L299.4 86.2L307.5 82L316.2 76.2L326.2 70L335 64.4L345 57.5L349 54"/>
<path d="M325 54L325 65L318.8 61.2L312.5 63.8L310 70.6L315 76.9"/>
<path d="M325 55L328 59L331.2 59L329.8 54"/>
<path d="M268 99L272.5 100L273 108.8L268.5 109.6"/>
<path d="M290.6 97.2L287.5 105L280 108.8L285 115L291.2 111.2L295 115L300.6 113L300 121.2L303 127.5L301.2 136.2L298 145L296.2 151.2L289.4 153.8"/>
<path d="M190 189.4L197.5 190L205 191.9L210.6 196.9L205 200L200.6 206.2L201.9 215L207.5 217.5L215.6 219.8L213.8 226.9L205 228.8L197.5 231.2L191.9 233.8L193 240L194 244"/>
<path d="M190 189.4L185.6 193L179.4 196.2L176.9 204.4L179.4 211.9L185 216.9L186.9 223.8L184.4 231.2L176.9 233L170.6 236.2L167.5 243.8L165.6 251.2L172.5 249.4L177.5 245L181.9 239.4L188.8 240.6L191.9 244.4L190 248.8L186.9 250.6L188.8 245L183 243.8L177.5 250L171.2 254.4L165 257.5L161.9 262.5L160.6 268.8L159.4 281L163.8 275L170 269.4L178.8 262.5L184.4 257.5L187.5 254"/>
<path d="M184.6 257.3L181.3 260.4L177.5 267.5L173.8 274.2L166.2 281L158.8 287.8L155 293L152.8 299.8L151.2 302L144.5 303.5L142.5 311.2L143.5 314L145.5 321L147.8 329L142.8 334L144.5 339L146.2 350L147.5 360L146.2 364.5L145.6 368L141.5 378L136.5 389.5L135.7 402.7L133.5 411L135.2 420.8L136.5 430.7L139.5 436.5L137.3 442.3L131.5 452.2L125 459.6L123 461.5"/>
<path d="M123 403.5L131.5 402.7L135.7 401.8"/>
</g>
<g stroke="#b2b2b2" stroke-width="1.7" fill="none" stroke-dasharray="1.9 4.66">
<path d="M195.00 563.60V54.05" stroke-dashoffset="0.95"/>
<path d="M265.67 563.60V54.05" stroke-dashoffset="0.95"/>
<path d="M336.33 563.60V54.05" stroke-dashoffset="0.95"/>
<path d="M407.00 563.60V54.05" stroke-dashoffset="0.95"/>
<path d="M477.67 563.60V54.05" stroke-dashoffset="0.95"/>
<path d="M548.33 563.60V54.05" stroke-dashoffset="0.95"/>
<path d="M619.00 563.60V54.05" stroke-dashoffset="0.95"/>
<path d="M124.33 105.00H675.50" stroke-dashoffset="0.95"/>
<path d="M124.33 189.92H675.50" stroke-dashoffset="0.95"/>
<path d="M124.33 274.84H675.50" stroke-dashoffset="0.95"/>
<path d="M124.33 359.76H675.50" stroke-dashoffset="0.95"/>
<path d="M124.33 444.68H675.50" stroke-dashoffset="0.95"/>
<path d="M124.33 529.60H675.50" stroke-dashoffset="0.95"/>
</g>
<g font-size="11.8" text-anchor="middle" stroke="#000" stroke-width="0.45">
<rect x="520.9" y="53.0" width="13.2" height="10.6" fill="#fff" stroke="none"/>
<text x="527.5" y="62.4" textLength="11.6" lengthAdjust="spacingAndGlyphs">18</text>
<rect x="364.6" y="96.0" width="13.2" height="10.6" fill="#fff" stroke="none"/>
<text x="371.2" y="105.4" textLength="11.6" lengthAdjust="spacingAndGlyphs">15</text>
<rect x="325.9" y="109.2" width="13.2" height="10.6" fill="#fff" stroke="none"/>
<text x="332.5" y="118.7" textLength="11.6" lengthAdjust="spacingAndGlyphs">15</text>
<rect x="537.2" y="147.7" width="22.6" height="10.6" fill="#fff" stroke="none"/>
<text x="548.5" y="157.2" textLength="20.6" lengthAdjust="spacingAndGlyphs">18.5</text>
<rect x="360.2" y="198.9" width="22.6" height="10.6" fill="#fff" stroke="none"/>
<text x="371.5" y="208.3" textLength="20.6" lengthAdjust="spacingAndGlyphs">15.5</text>
<rect x="279.9" y="216.6" width="13.2" height="10.6" fill="#fff" stroke="none"/>
<text x="286.5" y="226.1" textLength="11.6" lengthAdjust="spacingAndGlyphs">17</text>
<rect x="337.0" y="224.1" width="13.2" height="10.6" fill="#fff" stroke="none"/>
<text x="343.6" y="233.6" textLength="11.6" lengthAdjust="spacingAndGlyphs">16</text>
<rect x="194.5" y="239.1" width="22.6" height="10.6" fill="#fff" stroke="none"/>
<text x="205.8" y="248.6" textLength="20.6" lengthAdjust="spacingAndGlyphs">17.5</text>
<rect x="328.4" y="244.3" width="22.6" height="10.6" fill="#fff" stroke="none"/>
<text x="339.7" y="253.8" textLength="20.6" lengthAdjust="spacingAndGlyphs">16.5</text>
<rect x="337.0" y="258.4" width="13.2" height="10.6" fill="#fff" stroke="none"/>
<text x="343.6" y="267.9" textLength="11.6" lengthAdjust="spacingAndGlyphs">17</text>
<rect x="336.2" y="268.4" width="22.6" height="10.6" fill="#fff" stroke="none"/>
<text x="347.5" y="277.9" textLength="20.6" lengthAdjust="spacingAndGlyphs">17.5</text>
<rect x="583.2" y="295.4" width="22.6" height="10.6" fill="#fff" stroke="none"/>
<text x="594.5" y="304.9" textLength="20.6" lengthAdjust="spacingAndGlyphs">18.5</text>
<rect x="312.1" y="322.1" width="13.2" height="10.6" fill="#fff" stroke="none"/>
<text x="318.8" y="331.5" textLength="11.6" lengthAdjust="spacingAndGlyphs">18</text>
<rect x="502.2" y="325.4" width="22.6" height="10.6" fill="#fff" stroke="none"/>
<text x="513.5" y="334.9" textLength="20.6" lengthAdjust="spacingAndGlyphs">18.5</text>
<rect x="476.7" y="373.2" width="22.6" height="10.6" fill="#fff" stroke="none"/>
<text x="488.0" y="382.6" textLength="20.6" lengthAdjust="spacingAndGlyphs">18.5</text>
<rect x="240.7" y="415.2" width="22.6" height="10.6" fill="#fff" stroke="none"/>
<text x="252.0" y="424.6" textLength="20.6" lengthAdjust="spacingAndGlyphs">18.5</text>
<rect x="177.9" y="446.0" width="13.2" height="10.6" fill="#fff" stroke="none"/>
<text x="184.5" y="455.4" textLength="11.6" lengthAdjust="spacingAndGlyphs">18</text>
<rect x="393.4" y="491.9" width="13.2" height="10.6" fill="#fff" stroke="none"/>
<text x="400.0" y="501.4" textLength="11.6" lengthAdjust="spacingAndGlyphs">19</text>
<rect x="148.7" y="516.5" width="22.6" height="10.6" fill="#fff" stroke="none"/>
<text x="160.0" y="525.9" textLength="20.6" lengthAdjust="spacingAndGlyphs">18.5</text>
</g>
</g>
<g fill="#404040">
<text x="147.1" y="109.4" font-size="20.8" textLength="11.3" lengthAdjust="spacingAndGlyphs">Z</text>
<text x="175.6" y="109.4" font-size="20.8" textLength="14.7" lengthAdjust="spacingAndGlyphs">=</text>
<text x="207.2" y="109.4" font-size="20.8" textLength="32.2" lengthAdjust="spacingAndGlyphs">2.5</text>
<text x="257.3" y="109.4" font-size="20.8" textLength="16.8" lengthAdjust="spacingAndGlyphs">m</text>
</g>
<rect x="123.93" y="54.95" width="552.07" height="508.65" fill="none" stroke="#000" stroke-width="2.2"/>
<g stroke="#000" stroke-width="1.5">
<path d="M119.6 105.00H124"/>
<path d="M119.6 189.92H124"/>
<path d="M119.6 274.84H124"/>
<path d="M119.6 359.76H124"/>
<path d="M119.6 444.68H124"/>
<path d="M119.6 529.60H124"/>
<path d="M124.33 563V568"/>
<path d="M195.00 563V568"/>
<path d="M265.67 563V568"/>
<path d="M336.33 563V568"/>
<path d="M407.00 563V568"/>
<path d="M477.67 563V568"/>
<path d="M548.33 563V568"/>
<path d="M619.00 563V568"/>
</g>
<g font-size="12.8" fill="#000" stroke="#000" stroke-width="0.5">
<text x="93.2" y="109.7" textLength="23.8" lengthAdjust="spacingAndGlyphs">45.5</text>
<text x="104.4" y="194.6" textLength="12.6" lengthAdjust="spacingAndGlyphs">45</text>
<text x="93.2" y="279.5" textLength="23.8" lengthAdjust="spacingAndGlyphs">44.5</text>
<text x="104.4" y="364.5" textLength="12.6" lengthAdjust="spacingAndGlyphs">44</text>
<text x="93.2" y="449.4" textLength="23.8" lengthAdjust="spacingAndGlyphs">43.5</text>
<text x="104.4" y="534.3" textLength="12.6" lengthAdjust="spacingAndGlyphs">43</text>
<text x="112.4" y="578.6" textLength="23.8" lengthAdjust="spacingAndGlyphs">28.5</text>
<text x="188.7" y="578.6" textLength="12.6" lengthAdjust="spacingAndGlyphs">29</text>
<text x="253.8" y="578.6" textLength="23.8" lengthAdjust="spacingAndGlyphs">29.5</text>
<text x="330.0" y="578.6" textLength="12.6" lengthAdjust="spacingAndGlyphs">30</text>
<text x="395.1" y="578.6" textLength="23.8" lengthAdjust="spacingAndGlyphs">30.5</text>
<text x="471.4" y="578.6" textLength="12.6" lengthAdjust="spacingAndGlyphs">31</text>
<text x="536.4" y="578.6" textLength="23.8" lengthAdjust="spacingAndGlyphs">31.5</text>
<text x="612.7" y="578.6" textLength="12.6" lengthAdjust="spacingAndGlyphs">32</text>
</g>
<g fill="#000" stroke="#fff" stroke-width="0.25" paint-order="fill stroke">
<text x="76.2" y="42.0" font-size="24.2" textLength="77.6" lengthAdjust="spacingAndGlyphs">Salinity</text>
<text x="170.0" y="42.0" font-size="24.2" textLength="60.0" lengthAdjust="spacingAndGlyphs">(ppt).</text>
<text x="245.8" y="42.0" font-size="24.2" textLength="48.8" lengthAdjust="spacingAndGlyphs">Date</text>
<text x="309.9" y="42.0" font-size="24.2" textLength="135.5" lengthAdjust="spacingAndGlyphs">2022.05.30.</text>
<text x="460.9" y="42.0" font-size="24.2" textLength="50.7" lengthAdjust="spacingAndGlyphs">Time</text>
<text x="526.0" y="42.0" font-size="24.2" textLength="140.7" lengthAdjust="spacingAndGlyphs">00(h):00(m)</text>
<text x="682.0" y="42.0" font-size="24.2" textLength="41.6" lengthAdjust="spacingAndGlyphs" stroke-width="0.05">GMT</text>
<g stroke-width="0.05">
<text x="322.6" y="605.5" font-size="20.0" textLength="87.9" lengthAdjust="spacingAndGlyphs">Longitude</text>
<text x="423.0" y="605.5" font-size="20.0" textLength="52.5" lengthAdjust="spacingAndGlyphs">(East)</text>
<g transform="translate(82,382.5) rotate(-90)">
<text x="-0.5" y="0.0" font-size="20.2" textLength="72.0" lengthAdjust="spacingAndGlyphs">Latitude</text>
<text x="82.5" y="0.0" font-size="20.2" textLength="63.0" lengthAdjust="spacingAndGlyphs">(North)</text>
</g></g></g>
<g shape-rendering="crispEdges">
<rect x="709" y="549.98" width="14" height="6.32" fill="#000086"/>
<rect x="709" y="543.95" width="14" height="6.32" fill="#000092"/>
<rect x="709" y="537.93" width="14" height="6.32" fill="#00009f"/>
<rect x="709" y="531.90" width="14" height="6.32" fill="#0000ab"/>
<rect x="709" y="525.88" width="14" height="6.32" fill="#0000b7"/>
<rect x="709" y="519.85" width="14" height="6.32" fill="#0000c4"/>
<rect x="709" y="513.83" width="14" height="6.32" fill="#0000d0"/>
<rect x="709" y="507.80" width="14" height="6.32" fill="#0000dd"/>
<rect x="709" y="501.78" width="14" height="6.32" fill="#0000e9"/>
<rect x="709" y="495.76" width="14" height="6.32" fill="#0000f6"/>
<rect x="709" y="489.73" width="14" height="6.32" fill="#0003ff"/>
<rect x="709" y="483.71" width="14" height="6.32" fill="#0010ff"/>
<rect x="709" y="477.68" width="14" height="6.32" fill="#001cff"/>
<rect x="709" y="471.66" width="14" height="6.32" fill="#0028ff"/>
<rect x="709" y="465.63" width="14" height="6.32" fill="#0035ff"/>
<rect x="709" y="459.61" width="14" height="6.32" fill="#0041ff"/>
<rect x="709" y="453.59" width="14" height="6.32" fill="#004eff"/>
<rect x="709" y="447.56" width="14" height="6.32" fill="#005aff"/>
<rect x="709" y="441.54" width="14" height="6.32" fill="#0067ff"/>
<rect x="709" y="435.51" width="14" height="6.32" fill="#0073ff"/>
<rect x="709" y="429.49" width="14" height="6.32" fill="#0080ff"/>
<rect x="709" y="423.46" width="14" height="6.32" fill="#008cff"/>
<rect x="709" y="417.44" width="14" height="6.32" fill="#0098ff"/>
<rect x="709" y="411.41" width="14" height="6.32" fill="#00a5ff"/>
<rect x="709" y="405.39" width="14" height="6.32" fill="#00b1ff"/>
<rect x="709" y="399.37" width="14" height="6.32" fill="#00beff"/>
<rect x="709" y="393.34" width="14" height="6.32" fill="#00caff"/>
<rect x="709" y="387.32" width="14" height="6.32" fill="#00d7ff"/>
<rect x="709" y="381.29" width="14" height="6.32" fill="#00e3ff"/>
<rect x="709" y="375.27" width="14" height="6.32" fill="#00efff"/>
<rect x="709" y="369.24" width="14" height="6.32" fill="#00fcff"/>
<rect x="709" y="363.22" width="14" height="6.32" fill="#09fff6"/>
<rect x="709" y="357.20" width="14" height="6.32" fill="#16ffe9"/>
<rect x="709" y="351.17" width="14" height="6.32" fill="#22ffdd"/>
<rect x="709" y="345.15" width="14" height="6.32" fill="#2fffd0"/>
<rect x="709" y="339.12" width="14" height="6.32" fill="#3bffc4"/>
<rect x="709" y="333.10" width="14" height="6.32" fill="#48ffb7"/>
<rect x="709" y="327.07" width="14" height="6.32" fill="#54ffab"/>
<rect x="709" y="321.05" width="14" height="6.32" fill="#60ff9f"/>
<rect x="709" y="315.02" width="14" height="6.32" fill="#6dff92"/>
<rect x="709" y="309.00" width="14" height="6.32" fill="#79ff86"/>
<rect x="709" y="302.98" width="14" height="6.32" fill="#86ff79"/>
<rect x="709" y="296.95" width="14" height="6.32" fill="#92ff6d"/>
<rect x="709" y="290.93" width="14" height="6.32" fill="#9fff60"/>
<rect x="709" y="284.90" width="14" height="6.32" fill="#abff54"/>
<rect x="709" y="278.88" width="14" height="6.32" fill="#b7ff48"/>
<rect x="709" y="272.85" width="14" height="6.32" fill="#c4ff3b"/>
<rect x="709" y="266.83" width="14" height="6.32" fill="#d0ff2f"/>
<rect x="709" y="260.80" width="14" height="6.32" fill="#ddff22"/>
<rect x="709" y="254.78" width="14" height="6.32" fill="#e9ff16"/>
<rect x="709" y="248.76" width="14" height="6.32" fill="#f6ff09"/>
<rect x="709" y="242.73" width="14" height="6.32" fill="#fffc00"/>
<rect x="709" y="236.71" width="14" height="6.32" fill="#ffef00"/>
<rect x="709" y="230.68" width="14" height="6.32" fill="#ffe300"/>
<rect x="709" y="224.66" width="14" height="6.32" fill="#ffd700"/>
<rect x="709" y="218.63" width="14" height="6.32" fill="#ffca00"/>
<rect x="709" y="212.61" width="14" height="6.32" fill="#ffbe00"/>
<rect x="709" y="206.59" width="14" height="6.32" fill="#ffb100"/>
<rect x="709" y="200.56" width="14" height="6.32" fill="#ffa500"/>
<rect x="709" y="194.54" width="14" height="6.32" fill="#ff9800"/>
<rect x="709" y="188.51" width="14" height="6.32" fill="#ff8c00"/>
<rect x="709" y="182.49" width="14" height="6.32" fill="#ff8000"/>
<rect x="709" y="176.46" width="14" height="6.32" fill="#ff7300"/>
<rect x="709" y="170.44" width="14" height="6.32" fill="#ff6700"/>
<rect x="709" y="164.41" width="14" height="6.32" fill="#ff5a00"/>
<rect x="709" y="158.39" width="14" height="6.32" fill="#ff4e00"/>
<rect x="709" y="152.37" width="14" height="6.32" fill="#ff4100"/>
<rect x="709" y="146.34" width="14" height="6.32" fill="#ff3500"/>
<rect x="709" y="140.32" width="14" height="6.32" fill="#ff2800"/>
<rect x="709" y="134.29" width="14" height="6.32" fill="#ff1c00"/>
<rect x="709" y="128.27" width="14" height="6.32" fill="#ff1000"/>
<rect x="709" y="122.24" width="14" height="6.32" fill="#ff0300"/>
<rect x="709" y="116.22" width="14" height="6.32" fill="#f60000"/>
<rect x="709" y="110.20" width="14" height="6.32" fill="#e90000"/>
<rect x="709" y="104.17" width="14" height="6.32" fill="#dd0000"/>
<rect x="709" y="98.15" width="14" height="6.32" fill="#d00000"/>
<rect x="709" y="92.12" width="14" height="6.32" fill="#c40000"/>
<rect x="709" y="86.10" width="14" height="6.32" fill="#b70000"/>
<rect x="709" y="80.07" width="14" height="6.32" fill="#ab0000"/>
<rect x="709" y="74.05" width="14" height="6.32" fill="#9f0000"/>
<rect x="709" y="68.02" width="14" height="6.32" fill="#920000"/>
<rect x="709" y="62.00" width="14" height="6.32" fill="#860000"/>
</g>
<g font-size="14.2" fill="#000" stroke="#000" stroke-width="0.45" letter-spacing="0.25">
<text x="735.5" y="73.2">18.9</text>
<text x="735.5" y="188.9">15.8</text>
<text x="735.5" y="310.3">12.6</text>
<text x="735.5" y="432.6">9.41</text>
<text x="735.5" y="555.2">6.17</text>
</g>
</svg></body></html>
